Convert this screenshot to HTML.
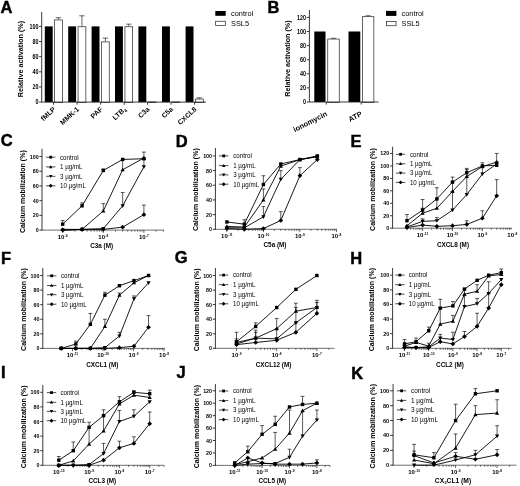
<!DOCTYPE html>
<html><head><meta charset="utf-8"><title>Figure</title>
<style>html,body{margin:0;padding:0;background:#fff}svg{display:block}</style></head>
<body>
<svg width="520" height="486" viewBox="0 0 520 486" font-family='"Liberation Sans", sans-serif' fill="#000">
<rect width="520" height="486" fill="#fff"/>
<text x="0.60" y="12.60" font-size="16.5" font-weight="bold" text-anchor="start" stroke="#000" stroke-width="0.45">A</text>
<path d="M39.10,102.10 H41.70" stroke="#222" stroke-width="0.9"/>
<text transform="translate(38.40 104.30) scale(0.86 1)" font-size="6.3" font-weight="bold" text-anchor="end">0</text>
<path d="M39.10,86.96 H41.70" stroke="#222" stroke-width="0.9"/>
<text transform="translate(38.40 89.16) scale(0.86 1)" font-size="6.3" font-weight="bold" text-anchor="end">20</text>
<path d="M39.10,71.82 H41.70" stroke="#222" stroke-width="0.9"/>
<text transform="translate(38.40 74.02) scale(0.86 1)" font-size="6.3" font-weight="bold" text-anchor="end">40</text>
<path d="M39.10,56.68 H41.70" stroke="#222" stroke-width="0.9"/>
<text transform="translate(38.40 58.88) scale(0.86 1)" font-size="6.3" font-weight="bold" text-anchor="end">60</text>
<path d="M39.10,41.54 H41.70" stroke="#222" stroke-width="0.9"/>
<text transform="translate(38.40 43.74) scale(0.86 1)" font-size="6.3" font-weight="bold" text-anchor="end">80</text>
<path d="M39.10,26.40 H41.70" stroke="#222" stroke-width="0.9"/>
<text transform="translate(38.40 28.60) scale(0.86 1)" font-size="6.3" font-weight="bold" text-anchor="end">100</text>
<text x="23.30" y="59.00" font-size="7.2" font-weight="bold" text-anchor="middle" transform="rotate(-90 23.30 59.00)">Relative activation (%)</text>
<rect x="44.80" y="26.40" width="7.90" height="75.70" fill="#000"/>
<path d="M58.35,19.59 V17.69 M55.65,17.69 H61.05" stroke="#111" stroke-width="0.65" fill="none"/>
<rect x="54.35" y="19.94" width="8.00" height="82.51" fill="#fff" stroke="#222" stroke-width="0.7"/>
<path d="M53.50,102.10 v2.6" stroke="#222" stroke-width="0.9"/>
<text x="55.90" y="109.80" font-size="6.95" font-weight="bold" text-anchor="end" transform="rotate(-43 55.90 109.80)">fMLP</text>
<rect x="68.20" y="26.40" width="7.90" height="75.70" fill="#000"/>
<path d="M81.95,26.40 V15.80 M79.25,15.80 H84.65" stroke="#111" stroke-width="0.65" fill="none"/>
<rect x="78.05" y="26.75" width="7.80" height="75.70" fill="#fff" stroke="#222" stroke-width="0.7"/>
<path d="M77.10,102.10 v2.6" stroke="#222" stroke-width="0.9"/>
<text x="79.50" y="109.80" font-size="6.95" font-weight="bold" text-anchor="end" transform="rotate(-43 79.50 109.80)">MMK-1</text>
<rect x="91.60" y="26.40" width="7.90" height="75.70" fill="#000"/>
<path d="M105.40,41.54 V38.13 M102.70,38.13 H108.10" stroke="#111" stroke-width="0.65" fill="none"/>
<rect x="101.55" y="41.89" width="7.70" height="60.56" fill="#fff" stroke="#222" stroke-width="0.7"/>
<path d="M100.60,102.10 v2.6" stroke="#222" stroke-width="0.9"/>
<text x="103.00" y="109.80" font-size="6.95" font-weight="bold" text-anchor="end" transform="rotate(-43 103.00 109.80)">PAF</text>
<rect x="115.00" y="26.40" width="7.90" height="75.70" fill="#000"/>
<path d="M128.80,26.40 V24.13 M126.10,24.13 H131.50" stroke="#111" stroke-width="0.65" fill="none"/>
<rect x="124.95" y="26.75" width="7.70" height="75.70" fill="#fff" stroke="#222" stroke-width="0.7"/>
<path d="M124.20,102.10 v2.6" stroke="#222" stroke-width="0.9"/>
<text x="126.60" y="109.80" font-size="6.95" font-weight="bold" text-anchor="end" transform="rotate(-43 126.60 109.80)">LTB<tspan font-size="4.8" dy="1.5">4</tspan></text>
<rect x="138.40" y="26.40" width="7.90" height="75.70" fill="#000"/>
<rect x="148.35" y="102.00" width="7.70" height="0.45" fill="#fff" stroke="#222" stroke-width="0.7"/>
<path d="M147.60,102.10 v2.6" stroke="#222" stroke-width="0.9"/>
<text x="150.00" y="109.80" font-size="6.95" font-weight="bold" text-anchor="end" transform="rotate(-43 150.00 109.80)">C3a</text>
<rect x="162.00" y="26.40" width="7.90" height="75.70" fill="#000"/>
<rect x="171.95" y="102.00" width="7.70" height="0.45" fill="#fff" stroke="#222" stroke-width="0.7"/>
<path d="M171.10,102.10 v2.6" stroke="#222" stroke-width="0.9"/>
<text x="173.50" y="109.80" font-size="6.95" font-weight="bold" text-anchor="end" transform="rotate(-43 173.50 109.80)">C5a</text>
<rect x="185.60" y="26.40" width="7.90" height="75.70" fill="#000"/>
<path d="M199.40,98.69 V97.79 M196.70,97.79 H202.10" stroke="#111" stroke-width="0.65" fill="none"/>
<rect x="195.45" y="99.04" width="7.90" height="3.41" fill="#fff" stroke="#222" stroke-width="0.7"/>
<path d="M194.60,102.10 v2.6" stroke="#222" stroke-width="0.9"/>
<text x="197.00" y="109.80" font-size="6.95" font-weight="bold" text-anchor="end" transform="rotate(-43 197.00 109.80)">CXCL8</text>
<path d="M41.70,12.00 V102.10 H206.00" fill="none" stroke="#222" stroke-width="0.9"/>
<rect x="215.30" y="11.00" width="10.40" height="4.80" fill="#000"/>
<rect x="215.65" y="21.25" width="9.70" height="4.10" fill="#fff" stroke="#222" stroke-width="0.7"/>
<text x="231.00" y="15.60" font-size="7.4" text-anchor="start">control</text>
<text x="231.00" y="25.50" font-size="7.4" text-anchor="start">SSL5</text>
<text x="267.40" y="12.90" font-size="16.5" font-weight="bold" text-anchor="start" stroke="#000" stroke-width="0.45">B</text>
<path d="M306.80,102.00 H309.40" stroke="#222" stroke-width="0.9"/>
<text transform="translate(306.10 104.20) scale(0.86 1)" font-size="6.3" font-weight="bold" text-anchor="end">0</text>
<path d="M306.80,87.90 H309.40" stroke="#222" stroke-width="0.9"/>
<text transform="translate(306.10 90.10) scale(0.86 1)" font-size="6.3" font-weight="bold" text-anchor="end">20</text>
<path d="M306.80,73.80 H309.40" stroke="#222" stroke-width="0.9"/>
<text transform="translate(306.10 76.00) scale(0.86 1)" font-size="6.3" font-weight="bold" text-anchor="end">40</text>
<path d="M306.80,59.70 H309.40" stroke="#222" stroke-width="0.9"/>
<text transform="translate(306.10 61.90) scale(0.86 1)" font-size="6.3" font-weight="bold" text-anchor="end">60</text>
<path d="M306.80,45.60 H309.40" stroke="#222" stroke-width="0.9"/>
<text transform="translate(306.10 47.80) scale(0.86 1)" font-size="6.3" font-weight="bold" text-anchor="end">80</text>
<path d="M306.80,31.50 H309.40" stroke="#222" stroke-width="0.9"/>
<text transform="translate(306.10 33.70) scale(0.86 1)" font-size="6.3" font-weight="bold" text-anchor="end">100</text>
<path d="M306.80,17.40 H309.40" stroke="#222" stroke-width="0.9"/>
<text transform="translate(306.10 19.60) scale(0.86 1)" font-size="6.3" font-weight="bold" text-anchor="end">120</text>
<text x="290.40" y="58.50" font-size="7.2" font-weight="bold" text-anchor="middle" transform="rotate(-90 290.40 58.50)">Relative activation (%)</text>
<rect x="314.30" y="31.50" width="11.20" height="70.50" fill="#000"/>
<path d="M333.50,38.69 V38.27 M330.80,38.27 H336.20" stroke="#111" stroke-width="0.65" fill="none"/>
<rect x="327.75" y="39.04" width="11.50" height="63.31" fill="#fff" stroke="#222" stroke-width="0.7"/>
<path d="M326.30,102.00 v2.6" stroke="#222" stroke-width="0.9"/>
<text x="327.80" y="115.50" font-size="7.4" font-weight="bold" text-anchor="end" transform="rotate(-27 327.80 115.50)">ionomycin</text>
<rect x="348.50" y="31.50" width="11.80" height="70.50" fill="#000"/>
<path d="M368.10,16.34 V15.78 M365.40,15.78 H370.80" stroke="#111" stroke-width="0.65" fill="none"/>
<rect x="362.35" y="16.69" width="11.50" height="85.66" fill="#fff" stroke="#222" stroke-width="0.7"/>
<path d="M361.20,102.00 v2.6" stroke="#222" stroke-width="0.9"/>
<text x="362.70" y="115.50" font-size="7.4" font-weight="bold" text-anchor="end" transform="rotate(-27 362.70 115.50)">ATP</text>
<path d="M309.40,10.00 V102.00 H378.50" fill="none" stroke="#222" stroke-width="0.9"/>
<rect x="386.00" y="10.90" width="10.40" height="5.00" fill="#000"/>
<rect x="386.35" y="21.45" width="9.70" height="4.30" fill="#fff" stroke="#222" stroke-width="0.7"/>
<text x="401.50" y="15.70" font-size="7.4" text-anchor="start">control</text>
<text x="401.50" y="25.90" font-size="7.4" text-anchor="start">SSL5</text>
<text x="0.80" y="145.50" font-size="16.5" font-weight="bold" text-anchor="start" stroke="#000" stroke-width="0.45">C</text>
<path d="M42.00,148.80 V230.40" fill="none" stroke="#222" stroke-width="0.9"/>
<path d="M41.60,230.10 H164.00" fill="none" stroke="#222" stroke-width="0.65"/>
<path d="M39.40,230.10 H42.00" stroke="#222" stroke-width="0.9"/>
<text transform="translate(38.60 232.10) scale(0.9 1)" font-size="5.9" font-weight="bold" text-anchor="end">0</text>
<path d="M39.40,215.38 H42.00" stroke="#222" stroke-width="0.9"/>
<text transform="translate(38.60 217.38) scale(0.9 1)" font-size="5.9" font-weight="bold" text-anchor="end">20</text>
<path d="M39.40,200.66 H42.00" stroke="#222" stroke-width="0.9"/>
<text transform="translate(38.60 202.66) scale(0.9 1)" font-size="5.9" font-weight="bold" text-anchor="end">40</text>
<path d="M39.40,185.94 H42.00" stroke="#222" stroke-width="0.9"/>
<text transform="translate(38.60 187.94) scale(0.9 1)" font-size="5.9" font-weight="bold" text-anchor="end">60</text>
<path d="M39.40,171.22 H42.00" stroke="#222" stroke-width="0.9"/>
<text transform="translate(38.60 173.22) scale(0.9 1)" font-size="5.9" font-weight="bold" text-anchor="end">80</text>
<path d="M39.40,156.50 H42.00" stroke="#222" stroke-width="0.9"/>
<text transform="translate(38.60 158.50) scale(0.9 1)" font-size="5.9" font-weight="bold" text-anchor="end">100</text>
<text x="25.00" y="191.70" font-size="7.0" font-weight="bold" text-anchor="middle" transform="rotate(-90 25.00 191.70)">Calcium mobilization (%)</text>
<path d="M62.70,230.10 v2.8 M74.92,230.10 v1.5 M82.07,230.10 v1.5 M87.14,230.10 v1.5 M91.08,230.10 v1.5 M94.29,230.10 v1.5 M97.01,230.10 v1.5 M99.37,230.10 v1.5 M101.44,230.10 v1.5 M103.30,230.10 v2.8 M115.52,230.10 v1.5 M122.67,230.10 v1.5 M127.74,230.10 v1.5 M131.68,230.10 v1.5 M134.89,230.10 v1.5 M137.61,230.10 v1.5 M139.97,230.10 v1.5 M142.04,230.10 v1.5 M143.90,230.10 v2.8 M156.12,230.10 v1.5 M163.27,230.10 v1.5" stroke="#111" stroke-width="0.65" fill="none"/>
<text x="57.77" y="238.50" font-size="6.0" font-weight="bold" text-anchor="start">10</text>
<text x="64.79" y="236.60" font-size="3.2" font-weight="bold" text-anchor="start">-9</text>
<text x="98.37" y="238.50" font-size="6.0" font-weight="bold" text-anchor="start">10</text>
<text x="105.39" y="236.60" font-size="3.2" font-weight="bold" text-anchor="start">-8</text>
<text x="138.97" y="238.50" font-size="6.0" font-weight="bold" text-anchor="start">10</text>
<text x="145.99" y="236.60" font-size="3.2" font-weight="bold" text-anchor="start">-7</text>
<text x="101.60" y="248.30" font-size="6.35" font-weight="bold" text-anchor="middle">C3a (M)</text>
<path d="M46.00,157.20 H55.40" stroke="#000" stroke-width="0.7"/>
<rect x="49.31" y="155.81" width="2.79" height="2.79" fill="#000"/>
<text transform="translate(60.00 159.55) scale(1 1.1)" font-size="6.2">control</text>
<path d="M46.00,166.90 H55.40" stroke="#000" stroke-width="0.7"/>
<polygon points="50.70,165.18 48.98,168.19 52.42,168.19" fill="#000"/>
<text transform="translate(60.00 169.25) scale(1 1.1)" font-size="6.2">1 µg/mL</text>
<path d="M46.00,176.30 H55.40" stroke="#000" stroke-width="0.7"/>
<polygon points="50.70,178.02 48.98,175.01 52.42,175.01" fill="#000"/>
<text transform="translate(60.00 178.65) scale(1 1.1)" font-size="6.2">3 µg/mL</text>
<path d="M46.00,185.80 H55.40" stroke="#000" stroke-width="0.7"/>
<polygon points="50.70,183.87 52.63,185.80 50.70,187.73 48.77,185.80" fill="#000"/>
<text transform="translate(60.00 188.15) scale(1 1.1)" font-size="6.2">10 µg/mL</text>
<path d="M62.70,224.21 V220.53 M60.80,220.53 H64.60" stroke="#000" stroke-width="0.65" fill="none"/>
<path d="M82.07,205.81 V202.87 M80.17,202.87 H83.97" stroke="#000" stroke-width="0.65" fill="none"/>
<path d="M103.30,170.48 V169.01 M101.40,169.01 H105.20" stroke="#000" stroke-width="0.65" fill="none"/>
<path d="M143.90,158.71 V152.08 M142.00,152.08 H145.80" stroke="#000" stroke-width="0.65" fill="none"/>
<path d="M103.30,210.96 V203.60 M101.40,203.60 H105.20" stroke="#000" stroke-width="0.65" fill="none"/>
<path d="M122.67,169.75 V159.44 M120.77,159.44 H124.57" stroke="#000" stroke-width="0.65" fill="none"/>
<path d="M122.67,205.81 V192.56 M120.77,192.56 H124.57" stroke="#000" stroke-width="0.65" fill="none"/>
<path d="M143.90,166.80 V159.44 M142.00,159.44 H145.80" stroke="#000" stroke-width="0.65" fill="none"/>
<path d="M143.90,214.64 V205.08 M142.00,205.08 H145.80" stroke="#000" stroke-width="0.65" fill="none"/>
<polyline points="62.70,224.21 82.07,205.81 103.30,170.48 122.67,159.44 143.90,158.71" fill="none" stroke="#000" stroke-width="0.9" stroke-linejoin="round"/>
<polyline points="62.70,229.36 82.07,229.36 103.30,210.96 122.67,169.75 143.90,157.97" fill="none" stroke="#000" stroke-width="0.9" stroke-linejoin="round"/>
<polyline points="62.70,230.10 82.07,229.36 103.30,228.63 122.67,205.81 143.90,166.80" fill="none" stroke="#000" stroke-width="0.9" stroke-linejoin="round"/>
<polyline points="62.70,230.10 82.07,229.36 103.30,229.36 122.67,227.16 143.90,214.64" fill="none" stroke="#000" stroke-width="0.9" stroke-linejoin="round"/>
<rect x="61.00" y="222.51" width="3.40" height="3.40" fill="#000"/>
<rect x="80.37" y="204.11" width="3.40" height="3.40" fill="#000"/>
<rect x="101.60" y="168.78" width="3.40" height="3.40" fill="#000"/>
<rect x="120.97" y="157.74" width="3.40" height="3.40" fill="#000"/>
<rect x="142.20" y="157.01" width="3.40" height="3.40" fill="#000"/>
<polygon points="62.70,227.26 60.60,230.94 64.80,230.94" fill="#000"/>
<polygon points="82.07,227.26 79.97,230.94 84.17,230.94" fill="#000"/>
<polygon points="103.30,208.86 101.20,212.54 105.40,212.54" fill="#000"/>
<polygon points="122.67,167.65 120.57,171.32 124.77,171.32" fill="#000"/>
<polygon points="143.90,155.87 141.80,159.55 146.00,159.55" fill="#000"/>
<polygon points="62.70,232.20 60.60,228.53 64.80,228.53" fill="#000"/>
<polygon points="82.07,231.46 79.97,227.79 84.17,227.79" fill="#000"/>
<polygon points="103.30,230.73 101.20,227.05 105.40,227.05" fill="#000"/>
<polygon points="122.67,207.91 120.57,204.24 124.77,204.24" fill="#000"/>
<polygon points="143.90,168.90 141.80,165.23 146.00,165.23" fill="#000"/>
<polygon points="62.70,227.75 65.05,230.10 62.70,232.45 60.35,230.10" fill="#000"/>
<polygon points="82.07,227.01 84.42,229.36 82.07,231.71 79.72,229.36" fill="#000"/>
<polygon points="103.30,227.01 105.65,229.36 103.30,231.71 100.95,229.36" fill="#000"/>
<polygon points="122.67,224.81 125.02,227.16 122.67,229.51 120.32,227.16" fill="#000"/>
<polygon points="143.90,212.29 146.25,214.64 143.90,216.99 141.55,214.64" fill="#000"/>
<text x="175.70" y="147.00" font-size="16.5" font-weight="bold" text-anchor="start" stroke="#000" stroke-width="0.45">D</text>
<path d="M215.40,148.00 V229.60" fill="none" stroke="#222" stroke-width="0.9"/>
<path d="M215.00,229.30 H337.00" fill="none" stroke="#222" stroke-width="0.65"/>
<path d="M212.80,229.30 H215.40" stroke="#222" stroke-width="0.9"/>
<text transform="translate(212.00 231.30) scale(0.9 1)" font-size="5.9" font-weight="bold" text-anchor="end">0</text>
<path d="M212.80,214.62 H215.40" stroke="#222" stroke-width="0.9"/>
<text transform="translate(212.00 216.62) scale(0.9 1)" font-size="5.9" font-weight="bold" text-anchor="end">20</text>
<path d="M212.80,199.94 H215.40" stroke="#222" stroke-width="0.9"/>
<text transform="translate(212.00 201.94) scale(0.9 1)" font-size="5.9" font-weight="bold" text-anchor="end">40</text>
<path d="M212.80,185.26 H215.40" stroke="#222" stroke-width="0.9"/>
<text transform="translate(212.00 187.26) scale(0.9 1)" font-size="5.9" font-weight="bold" text-anchor="end">60</text>
<path d="M212.80,170.58 H215.40" stroke="#222" stroke-width="0.9"/>
<text transform="translate(212.00 172.58) scale(0.9 1)" font-size="5.9" font-weight="bold" text-anchor="end">80</text>
<path d="M212.80,155.90 H215.40" stroke="#222" stroke-width="0.9"/>
<text transform="translate(212.00 157.90) scale(0.9 1)" font-size="5.9" font-weight="bold" text-anchor="end">100</text>
<text x="198.50" y="189.70" font-size="7.0" font-weight="bold" text-anchor="middle" transform="rotate(-90 198.50 189.70)">Calcium mobilization (%)</text>
<path d="M226.90,229.30 v2.8 M237.89,229.30 v1.5 M244.31,229.30 v1.5 M248.88,229.30 v1.5 M252.41,229.30 v1.5 M255.30,229.30 v1.5 M257.75,229.30 v1.5 M259.86,229.30 v1.5 M261.73,229.30 v1.5 M263.40,229.30 v2.8 M274.39,229.30 v1.5 M280.81,229.30 v1.5 M285.38,229.30 v1.5 M288.91,229.30 v1.5 M291.80,229.30 v1.5 M294.25,229.30 v1.5 M296.36,229.30 v1.5 M298.23,229.30 v1.5 M299.90,229.30 v2.8 M310.89,229.30 v1.5 M317.31,229.30 v1.5 M321.88,229.30 v1.5 M325.41,229.30 v1.5 M328.30,229.30 v1.5 M330.75,229.30 v1.5 M332.86,229.30 v1.5 M334.73,229.30 v1.5 M336.40,229.30 v2.8" stroke="#111" stroke-width="0.65" fill="none"/>
<text x="221.08" y="237.70" font-size="6.0" font-weight="bold" text-anchor="start">10</text>
<text x="228.10" y="235.80" font-size="3.2" font-weight="bold" text-anchor="start">-11</text>
<text x="257.58" y="237.70" font-size="6.0" font-weight="bold" text-anchor="start">10</text>
<text x="264.60" y="235.80" font-size="3.2" font-weight="bold" text-anchor="start">-10</text>
<text x="294.97" y="237.70" font-size="6.0" font-weight="bold" text-anchor="start">10</text>
<text x="301.99" y="235.80" font-size="3.2" font-weight="bold" text-anchor="start">-9</text>
<text x="331.47" y="237.70" font-size="6.0" font-weight="bold" text-anchor="start">10</text>
<text x="338.49" y="235.80" font-size="3.2" font-weight="bold" text-anchor="start">-8</text>
<text x="275.00" y="247.30" font-size="6.35" font-weight="bold" text-anchor="middle">C5a (M)</text>
<path d="M219.00,155.90 H228.40" stroke="#000" stroke-width="0.7"/>
<rect x="222.31" y="154.51" width="2.79" height="2.79" fill="#000"/>
<text transform="translate(233.20 158.25) scale(1 1.1)" font-size="6.2">control</text>
<path d="M219.00,165.60 H228.40" stroke="#000" stroke-width="0.7"/>
<polygon points="223.70,163.88 221.98,166.89 225.42,166.89" fill="#000"/>
<text transform="translate(233.20 167.95) scale(1 1.1)" font-size="6.2">1 µg/mL</text>
<path d="M219.00,174.90 H228.40" stroke="#000" stroke-width="0.7"/>
<polygon points="223.70,176.62 221.98,173.61 225.42,173.61" fill="#000"/>
<text transform="translate(233.20 177.25) scale(1 1.1)" font-size="6.2">3 µg/mL</text>
<path d="M219.00,184.20 H228.40" stroke="#000" stroke-width="0.7"/>
<polygon points="223.70,182.27 225.63,184.20 223.70,186.13 221.77,184.20" fill="#000"/>
<text transform="translate(233.20 186.55) scale(1 1.1)" font-size="6.2">10 µg/mL</text>
<path d="M244.31,224.16 V219.76 M242.41,219.76 H246.21" stroke="#000" stroke-width="0.65" fill="none"/>
<path d="M263.40,184.53 V175.72 M261.50,175.72 H265.30" stroke="#000" stroke-width="0.65" fill="none"/>
<path d="M263.40,199.94 V188.93 M261.50,188.93 H265.30" stroke="#000" stroke-width="0.65" fill="none"/>
<path d="M263.40,216.82 V206.55 M261.50,206.55 H265.30" stroke="#000" stroke-width="0.65" fill="none"/>
<path d="M280.81,179.39 V170.58 M278.91,170.58 H282.71" stroke="#000" stroke-width="0.65" fill="none"/>
<path d="M280.81,220.49 V211.68 M278.91,211.68 H282.71" stroke="#000" stroke-width="0.65" fill="none"/>
<path d="M299.90,175.72 V167.64 M298.00,167.64 H301.80" stroke="#000" stroke-width="0.65" fill="none"/>
<polyline points="226.90,221.96 244.31,224.16 263.40,184.53 280.81,163.97 299.90,159.57 317.31,155.90" fill="none" stroke="#000" stroke-width="0.9" stroke-linejoin="round"/>
<polyline points="226.90,226.36 244.31,227.10 263.40,199.94 280.81,166.18 299.90,159.57 317.31,156.63" fill="none" stroke="#000" stroke-width="0.9" stroke-linejoin="round"/>
<polyline points="226.90,227.83 244.31,227.83 263.40,216.82 280.81,179.39 299.90,159.57 317.31,156.63" fill="none" stroke="#000" stroke-width="0.9" stroke-linejoin="round"/>
<polyline points="226.90,228.57 244.31,229.30 263.40,228.57 280.81,220.49 299.90,175.72 317.31,159.57" fill="none" stroke="#000" stroke-width="0.9" stroke-linejoin="round"/>
<rect x="225.20" y="220.26" width="3.40" height="3.40" fill="#000"/>
<rect x="242.61" y="222.46" width="3.40" height="3.40" fill="#000"/>
<rect x="261.70" y="182.83" width="3.40" height="3.40" fill="#000"/>
<rect x="279.11" y="162.27" width="3.40" height="3.40" fill="#000"/>
<rect x="298.20" y="157.87" width="3.40" height="3.40" fill="#000"/>
<rect x="315.61" y="154.20" width="3.40" height="3.40" fill="#000"/>
<polygon points="226.90,224.26 224.80,227.94 229.00,227.94" fill="#000"/>
<polygon points="244.31,225.00 242.21,228.67 246.41,228.67" fill="#000"/>
<polygon points="263.40,197.84 261.30,201.51 265.50,201.51" fill="#000"/>
<polygon points="280.81,164.08 278.71,167.75 282.91,167.75" fill="#000"/>
<polygon points="299.90,157.47 297.80,161.14 302.00,161.14" fill="#000"/>
<polygon points="317.31,154.53 315.21,158.21 319.41,158.21" fill="#000"/>
<polygon points="226.90,229.93 224.80,226.26 229.00,226.26" fill="#000"/>
<polygon points="244.31,229.93 242.21,226.26 246.41,226.26" fill="#000"/>
<polygon points="263.40,218.92 261.30,215.25 265.50,215.25" fill="#000"/>
<polygon points="280.81,181.49 278.71,177.81 282.91,177.81" fill="#000"/>
<polygon points="299.90,161.67 297.80,158.00 302.00,158.00" fill="#000"/>
<polygon points="317.31,158.73 315.21,155.06 319.41,155.06" fill="#000"/>
<polygon points="226.90,226.22 229.25,228.57 226.90,230.92 224.55,228.57" fill="#000"/>
<polygon points="244.31,226.95 246.66,229.30 244.31,231.65 241.96,229.30" fill="#000"/>
<polygon points="263.40,226.22 265.75,228.57 263.40,230.92 261.05,228.57" fill="#000"/>
<polygon points="280.81,218.14 283.16,220.49 280.81,222.84 278.46,220.49" fill="#000"/>
<polygon points="299.90,173.37 302.25,175.72 299.90,178.07 297.55,175.72" fill="#000"/>
<polygon points="317.31,157.22 319.66,159.57 317.31,161.92 314.96,159.57" fill="#000"/>
<text x="350.50" y="147.30" font-size="16.5" font-weight="bold" text-anchor="start" stroke="#000" stroke-width="0.45">E</text>
<path d="M392.60,146.80 V228.50" fill="none" stroke="#222" stroke-width="0.9"/>
<path d="M392.20,228.20 H512.00" fill="none" stroke="#222" stroke-width="0.65"/>
<path d="M390.00,228.20 H392.60" stroke="#222" stroke-width="0.9"/>
<text transform="translate(389.20 230.20) scale(0.9 1)" font-size="5.9" font-weight="bold" text-anchor="end">0</text>
<path d="M390.00,215.74 H392.60" stroke="#222" stroke-width="0.9"/>
<text transform="translate(389.20 217.74) scale(0.9 1)" font-size="5.9" font-weight="bold" text-anchor="end">20</text>
<path d="M390.00,203.28 H392.60" stroke="#222" stroke-width="0.9"/>
<text transform="translate(389.20 205.28) scale(0.9 1)" font-size="5.9" font-weight="bold" text-anchor="end">40</text>
<path d="M390.00,190.82 H392.60" stroke="#222" stroke-width="0.9"/>
<text transform="translate(389.20 192.82) scale(0.9 1)" font-size="5.9" font-weight="bold" text-anchor="end">60</text>
<path d="M390.00,178.36 H392.60" stroke="#222" stroke-width="0.9"/>
<text transform="translate(389.20 180.36) scale(0.9 1)" font-size="5.9" font-weight="bold" text-anchor="end">80</text>
<path d="M390.00,165.90 H392.60" stroke="#222" stroke-width="0.9"/>
<text transform="translate(389.20 167.90) scale(0.9 1)" font-size="5.9" font-weight="bold" text-anchor="end">100</text>
<path d="M390.00,153.44 H392.60" stroke="#222" stroke-width="0.9"/>
<text transform="translate(389.20 155.44) scale(0.9 1)" font-size="5.9" font-weight="bold" text-anchor="end">120</text>
<text x="374.50" y="189.50" font-size="7.0" font-weight="bold" text-anchor="middle" transform="rotate(-90 374.50 189.50)">Calcium mobilization (%)</text>
<path d="M406.97,228.20 v1.5 M410.70,228.20 v1.5 M413.60,228.20 v1.5 M415.97,228.20 v1.5 M417.97,228.20 v1.5 M419.70,228.20 v1.5 M421.23,228.20 v1.5 M422.60,228.20 v2.8 M431.60,228.20 v1.5 M436.87,228.20 v1.5 M440.60,228.20 v1.5 M443.50,228.20 v1.5 M445.87,228.20 v1.5 M447.87,228.20 v1.5 M449.60,228.20 v1.5 M451.13,228.20 v1.5 M452.50,228.20 v2.8 M461.50,228.20 v1.5 M466.77,228.20 v1.5 M470.50,228.20 v1.5 M473.40,228.20 v1.5 M475.77,228.20 v1.5 M477.77,228.20 v1.5 M479.50,228.20 v1.5 M481.03,228.20 v1.5 M482.40,228.20 v2.8 M491.40,228.20 v1.5 M496.67,228.20 v1.5 M500.40,228.20 v1.5 M503.30,228.20 v1.5 M505.67,228.20 v1.5 M507.67,228.20 v1.5 M509.40,228.20 v1.5 M510.93,228.20 v1.5" stroke="#111" stroke-width="0.65" fill="none"/>
<text x="416.78" y="236.60" font-size="6.0" font-weight="bold" text-anchor="start">10</text>
<text x="423.80" y="234.70" font-size="3.2" font-weight="bold" text-anchor="start">-11</text>
<text x="446.68" y="236.60" font-size="6.0" font-weight="bold" text-anchor="start">10</text>
<text x="453.70" y="234.70" font-size="3.2" font-weight="bold" text-anchor="start">-10</text>
<text x="477.47" y="236.60" font-size="6.0" font-weight="bold" text-anchor="start">10</text>
<text x="484.49" y="234.70" font-size="3.2" font-weight="bold" text-anchor="start">-9</text>
<text x="507.37" y="236.60" font-size="6.0" font-weight="bold" text-anchor="start">10</text>
<text x="514.39" y="234.70" font-size="3.2" font-weight="bold" text-anchor="start">-8</text>
<text x="453.00" y="247.00" font-size="6.35" font-weight="bold" text-anchor="middle">CXCL8 (M)</text>
<path d="M395.90,154.30 H405.30" stroke="#000" stroke-width="0.7"/>
<rect x="399.21" y="152.91" width="2.79" height="2.79" fill="#000"/>
<text transform="translate(409.90 156.65) scale(1 1.1)" font-size="6.2">control</text>
<path d="M395.90,163.80 H405.30" stroke="#000" stroke-width="0.7"/>
<polygon points="400.60,162.08 398.88,165.09 402.32,165.09" fill="#000"/>
<text transform="translate(409.90 166.15) scale(1 1.1)" font-size="6.2">1 µg/mL</text>
<path d="M395.90,173.10 H405.30" stroke="#000" stroke-width="0.7"/>
<polygon points="400.60,174.82 398.88,171.81 402.32,171.81" fill="#000"/>
<text transform="translate(409.90 175.45) scale(1 1.1)" font-size="6.2">3 µg/mL</text>
<path d="M395.90,182.40 H405.30" stroke="#000" stroke-width="0.7"/>
<polygon points="400.60,180.47 402.53,182.40 400.60,184.33 398.67,182.40" fill="#000"/>
<text transform="translate(409.90 184.75) scale(1 1.1)" font-size="6.2">10 µg/mL</text>
<path d="M406.97,220.72 V214.49 M405.07,214.49 H408.87" stroke="#000" stroke-width="0.65" fill="none"/>
<path d="M422.60,210.13 V199.54 M420.70,199.54 H424.50" stroke="#000" stroke-width="0.65" fill="none"/>
<path d="M436.87,198.92 V187.71 M434.97,187.71 H438.77" stroke="#000" stroke-width="0.65" fill="none"/>
<path d="M452.50,182.10 V177.11 M450.60,177.11 H454.40" stroke="#000" stroke-width="0.65" fill="none"/>
<path d="M466.77,172.75 V168.39 M464.87,168.39 H468.67" stroke="#000" stroke-width="0.65" fill="none"/>
<path d="M482.40,165.90 V162.79 M480.50,162.79 H484.30" stroke="#000" stroke-width="0.65" fill="none"/>
<path d="M496.67,165.28 V161.54 M494.77,161.54 H498.57" stroke="#000" stroke-width="0.65" fill="none"/>
<path d="M422.60,213.25 V208.26 M420.70,208.26 H424.50" stroke="#000" stroke-width="0.65" fill="none"/>
<path d="M436.87,208.26 V198.92 M434.97,198.92 H438.77" stroke="#000" stroke-width="0.65" fill="none"/>
<path d="M452.50,191.44 V182.10 M450.60,182.10 H454.40" stroke="#000" stroke-width="0.65" fill="none"/>
<path d="M466.77,176.49 V169.64 M464.87,169.64 H468.67" stroke="#000" stroke-width="0.65" fill="none"/>
<path d="M496.67,162.16 V153.44 M494.77,153.44 H498.57" stroke="#000" stroke-width="0.65" fill="none"/>
<path d="M422.60,221.35 V218.85 M420.70,218.85 H424.50" stroke="#000" stroke-width="0.65" fill="none"/>
<path d="M436.87,220.72 V217.61 M434.97,217.61 H438.77" stroke="#000" stroke-width="0.65" fill="none"/>
<path d="M452.50,210.13 V191.44 M450.60,191.44 H454.40" stroke="#000" stroke-width="0.65" fill="none"/>
<path d="M466.77,194.56 V177.11 M464.87,177.11 H468.67" stroke="#000" stroke-width="0.65" fill="none"/>
<path d="M482.40,174.00 V167.77 M480.50,167.77 H484.30" stroke="#000" stroke-width="0.65" fill="none"/>
<path d="M466.77,224.46 V220.72 M464.87,220.72 H468.67" stroke="#000" stroke-width="0.65" fill="none"/>
<path d="M482.40,218.23 V210.76 M480.50,210.76 H484.30" stroke="#000" stroke-width="0.65" fill="none"/>
<path d="M496.67,195.80 V179.61 M494.77,179.61 H498.57" stroke="#000" stroke-width="0.65" fill="none"/>
<polyline points="406.97,220.72 422.60,210.13 436.87,198.92 452.50,182.10 466.77,172.75 482.40,165.90 496.67,165.28" fill="none" stroke="#000" stroke-width="0.9" stroke-linejoin="round"/>
<polyline points="406.97,225.71 422.60,213.25 436.87,208.26 452.50,191.44 466.77,176.49 482.40,166.52 496.67,162.16" fill="none" stroke="#000" stroke-width="0.9" stroke-linejoin="round"/>
<polyline points="406.97,226.95 422.60,221.35 436.87,220.72 452.50,210.13 466.77,194.56 482.40,174.00 496.67,164.03" fill="none" stroke="#000" stroke-width="0.9" stroke-linejoin="round"/>
<polyline points="406.97,227.58 422.60,225.08 436.87,226.33 452.50,225.71 466.77,224.46 482.40,218.23 496.67,195.80" fill="none" stroke="#000" stroke-width="0.9" stroke-linejoin="round"/>
<rect x="405.27" y="219.02" width="3.40" height="3.40" fill="#000"/>
<rect x="420.90" y="208.43" width="3.40" height="3.40" fill="#000"/>
<rect x="435.17" y="197.22" width="3.40" height="3.40" fill="#000"/>
<rect x="450.80" y="180.40" width="3.40" height="3.40" fill="#000"/>
<rect x="465.07" y="171.05" width="3.40" height="3.40" fill="#000"/>
<rect x="480.70" y="164.20" width="3.40" height="3.40" fill="#000"/>
<rect x="494.97" y="163.58" width="3.40" height="3.40" fill="#000"/>
<polygon points="406.97,223.61 404.87,227.28 409.07,227.28" fill="#000"/>
<polygon points="422.60,211.15 420.50,214.82 424.70,214.82" fill="#000"/>
<polygon points="436.87,206.16 434.77,209.84 438.97,209.84" fill="#000"/>
<polygon points="452.50,189.34 450.40,193.02 454.60,193.02" fill="#000"/>
<polygon points="466.77,174.39 464.67,178.07 468.87,178.07" fill="#000"/>
<polygon points="482.40,164.42 480.30,168.10 484.50,168.10" fill="#000"/>
<polygon points="496.67,160.06 494.57,163.74 498.77,163.74" fill="#000"/>
<polygon points="406.97,229.05 404.87,225.38 409.07,225.38" fill="#000"/>
<polygon points="422.60,223.45 420.50,219.77 424.70,219.77" fill="#000"/>
<polygon points="436.87,222.82 434.77,219.15 438.97,219.15" fill="#000"/>
<polygon points="452.50,212.23 450.40,208.56 454.60,208.56" fill="#000"/>
<polygon points="466.77,196.66 464.67,192.98 468.87,192.98" fill="#000"/>
<polygon points="482.40,176.10 480.30,172.42 484.50,172.42" fill="#000"/>
<polygon points="496.67,166.13 494.57,162.46 498.77,162.46" fill="#000"/>
<polygon points="406.97,225.23 409.32,227.58 406.97,229.93 404.62,227.58" fill="#000"/>
<polygon points="422.60,222.73 424.95,225.08 422.60,227.43 420.25,225.08" fill="#000"/>
<polygon points="436.87,223.98 439.22,226.33 436.87,228.68 434.52,226.33" fill="#000"/>
<polygon points="452.50,223.36 454.85,225.71 452.50,228.06 450.15,225.71" fill="#000"/>
<polygon points="466.77,222.11 469.12,224.46 466.77,226.81 464.42,224.46" fill="#000"/>
<polygon points="482.40,215.88 484.75,218.23 482.40,220.58 480.05,218.23" fill="#000"/>
<polygon points="496.67,193.45 499.02,195.80 496.67,198.15 494.32,195.80" fill="#000"/>
<text x="1.00" y="263.60" font-size="16.5" font-weight="bold" text-anchor="start" stroke="#000" stroke-width="0.45">F</text>
<path d="M42.80,268.00 V348.70" fill="none" stroke="#222" stroke-width="0.9"/>
<path d="M42.40,348.40 H165.00" fill="none" stroke="#222" stroke-width="0.65"/>
<path d="M40.20,348.40 H42.80" stroke="#222" stroke-width="0.9"/>
<text transform="translate(39.40 350.40) scale(0.9 1)" font-size="5.9" font-weight="bold" text-anchor="end">0</text>
<path d="M40.20,333.82 H42.80" stroke="#222" stroke-width="0.9"/>
<text transform="translate(39.40 335.82) scale(0.9 1)" font-size="5.9" font-weight="bold" text-anchor="end">20</text>
<path d="M40.20,319.24 H42.80" stroke="#222" stroke-width="0.9"/>
<text transform="translate(39.40 321.24) scale(0.9 1)" font-size="5.9" font-weight="bold" text-anchor="end">40</text>
<path d="M40.20,304.66 H42.80" stroke="#222" stroke-width="0.9"/>
<text transform="translate(39.40 306.66) scale(0.9 1)" font-size="5.9" font-weight="bold" text-anchor="end">60</text>
<path d="M40.20,290.08 H42.80" stroke="#222" stroke-width="0.9"/>
<text transform="translate(39.40 292.08) scale(0.9 1)" font-size="5.9" font-weight="bold" text-anchor="end">80</text>
<path d="M40.20,275.50 H42.80" stroke="#222" stroke-width="0.9"/>
<text transform="translate(39.40 277.50) scale(0.9 1)" font-size="5.9" font-weight="bold" text-anchor="end">100</text>
<text x="25.90" y="309.50" font-size="7.0" font-weight="bold" text-anchor="middle" transform="rotate(-90 25.90 309.50)">Calcium mobilization (%)</text>
<path d="M72.50,348.40 v2.8 M81.68,348.40 v1.5 M87.05,348.40 v1.5 M90.86,348.40 v1.5 M93.82,348.40 v1.5 M96.23,348.40 v1.5 M98.28,348.40 v1.5 M100.04,348.40 v1.5 M101.60,348.40 v1.5 M103.00,348.40 v2.8 M112.18,348.40 v1.5 M117.55,348.40 v1.5 M121.36,348.40 v1.5 M124.32,348.40 v1.5 M126.73,348.40 v1.5 M128.78,348.40 v1.5 M130.54,348.40 v1.5 M132.10,348.40 v1.5 M133.50,348.40 v2.8 M142.68,348.40 v1.5 M148.05,348.40 v1.5 M151.86,348.40 v1.5 M154.82,348.40 v1.5 M157.23,348.40 v1.5 M159.28,348.40 v1.5 M161.04,348.40 v1.5 M162.60,348.40 v1.5 M164.00,348.40 v2.8" stroke="#111" stroke-width="0.65" fill="none"/>
<text x="66.68" y="356.80" font-size="6.0" font-weight="bold" text-anchor="start">10</text>
<text x="73.70" y="354.90" font-size="3.2" font-weight="bold" text-anchor="start">-11</text>
<text x="97.18" y="356.80" font-size="6.0" font-weight="bold" text-anchor="start">10</text>
<text x="104.20" y="354.90" font-size="3.2" font-weight="bold" text-anchor="start">-10</text>
<text x="128.57" y="356.80" font-size="6.0" font-weight="bold" text-anchor="start">10</text>
<text x="135.59" y="354.90" font-size="3.2" font-weight="bold" text-anchor="start">-9</text>
<text x="159.07" y="356.80" font-size="6.0" font-weight="bold" text-anchor="start">10</text>
<text x="166.09" y="354.90" font-size="3.2" font-weight="bold" text-anchor="start">-8</text>
<text x="102.30" y="367.00" font-size="6.35" font-weight="bold" text-anchor="middle">CXCL1 (M)</text>
<path d="M47.00,275.80 H56.40" stroke="#000" stroke-width="0.7"/>
<rect x="50.31" y="274.41" width="2.79" height="2.79" fill="#000"/>
<text transform="translate(60.90 278.15) scale(1 1.1)" font-size="6.2">control</text>
<path d="M47.00,285.50 H56.40" stroke="#000" stroke-width="0.7"/>
<polygon points="51.70,283.78 49.98,286.79 53.42,286.79" fill="#000"/>
<text transform="translate(60.90 287.85) scale(1 1.1)" font-size="6.2">1 µg/mL</text>
<path d="M47.00,294.70 H56.40" stroke="#000" stroke-width="0.7"/>
<polygon points="51.70,296.42 49.98,293.41 53.42,293.41" fill="#000"/>
<text transform="translate(60.90 297.05) scale(1 1.1)" font-size="6.2">3 µg/mL</text>
<path d="M47.00,304.20 H56.40" stroke="#000" stroke-width="0.7"/>
<polygon points="51.70,302.27 53.63,304.20 51.70,306.13 49.77,304.20" fill="#000"/>
<text transform="translate(60.90 306.55) scale(1 1.1)" font-size="6.2">10 µg/mL</text>
<path d="M75.80,344.03 V341.11 M73.90,341.11 H77.70" stroke="#000" stroke-width="0.65" fill="none"/>
<path d="M90.35,324.34 V313.41 M88.45,313.41 H92.25" stroke="#000" stroke-width="0.65" fill="none"/>
<path d="M104.90,295.18 V292.27 M103.00,292.27 H106.80" stroke="#000" stroke-width="0.65" fill="none"/>
<path d="M104.90,326.53 V319.24 M103.00,319.24 H106.80" stroke="#000" stroke-width="0.65" fill="none"/>
<path d="M119.44,295.18 V293.00 M117.54,293.00 H121.34" stroke="#000" stroke-width="0.65" fill="none"/>
<path d="M119.44,336.01 V332.36 M117.54,332.36 H121.34" stroke="#000" stroke-width="0.65" fill="none"/>
<path d="M133.99,298.83 V295.91 M132.09,295.91 H135.89" stroke="#000" stroke-width="0.65" fill="none"/>
<path d="M148.54,327.26 V315.59 M146.64,315.59 H150.44" stroke="#000" stroke-width="0.65" fill="none"/>
<polyline points="61.25,348.40 75.80,344.03 90.35,324.34 104.90,295.18 119.44,285.71 133.99,280.60 148.54,275.50" fill="none" stroke="#000" stroke-width="0.9" stroke-linejoin="round"/>
<polyline points="61.25,348.40 75.80,348.40 90.35,348.40 104.90,326.53 119.44,295.18 133.99,282.79 148.54,275.50" fill="none" stroke="#000" stroke-width="0.9" stroke-linejoin="round"/>
<polyline points="61.25,348.40 75.80,348.40 90.35,348.40 104.90,347.67 119.44,336.01 133.99,298.83 148.54,282.79" fill="none" stroke="#000" stroke-width="0.9" stroke-linejoin="round"/>
<polyline points="61.25,348.40 75.80,348.40 90.35,348.40 104.90,348.40 119.44,347.67 133.99,346.21 148.54,327.26" fill="none" stroke="#000" stroke-width="0.9" stroke-linejoin="round"/>
<rect x="59.55" y="346.70" width="3.40" height="3.40" fill="#000"/>
<rect x="74.10" y="342.33" width="3.40" height="3.40" fill="#000"/>
<rect x="88.65" y="322.64" width="3.40" height="3.40" fill="#000"/>
<rect x="103.20" y="293.48" width="3.40" height="3.40" fill="#000"/>
<rect x="117.74" y="284.01" width="3.40" height="3.40" fill="#000"/>
<rect x="132.29" y="278.90" width="3.40" height="3.40" fill="#000"/>
<rect x="146.84" y="273.80" width="3.40" height="3.40" fill="#000"/>
<polygon points="61.25,346.30 59.15,349.97 63.35,349.97" fill="#000"/>
<polygon points="75.80,346.30 73.70,349.97 77.90,349.97" fill="#000"/>
<polygon points="90.35,346.30 88.25,349.97 92.45,349.97" fill="#000"/>
<polygon points="104.90,324.43 102.80,328.10 107.00,328.10" fill="#000"/>
<polygon points="119.44,293.08 117.34,296.76 121.54,296.76" fill="#000"/>
<polygon points="133.99,280.69 131.89,284.36 136.09,284.36" fill="#000"/>
<polygon points="148.54,273.40 146.44,277.07 150.64,277.07" fill="#000"/>
<polygon points="61.25,350.50 59.15,346.82 63.35,346.82" fill="#000"/>
<polygon points="75.80,350.50 73.70,346.82 77.90,346.82" fill="#000"/>
<polygon points="90.35,350.50 88.25,346.82 92.45,346.82" fill="#000"/>
<polygon points="104.90,349.77 102.80,346.10 107.00,346.10" fill="#000"/>
<polygon points="119.44,338.11 117.34,334.43 121.54,334.43" fill="#000"/>
<polygon points="133.99,300.93 131.89,297.25 136.09,297.25" fill="#000"/>
<polygon points="148.54,284.89 146.44,281.21 150.64,281.21" fill="#000"/>
<polygon points="61.25,346.05 63.60,348.40 61.25,350.75 58.90,348.40" fill="#000"/>
<polygon points="75.80,346.05 78.15,348.40 75.80,350.75 73.45,348.40" fill="#000"/>
<polygon points="90.35,346.05 92.70,348.40 90.35,350.75 88.00,348.40" fill="#000"/>
<polygon points="104.90,346.05 107.25,348.40 104.90,350.75 102.55,348.40" fill="#000"/>
<polygon points="119.44,345.32 121.79,347.67 119.44,350.02 117.09,347.67" fill="#000"/>
<polygon points="133.99,343.86 136.34,346.21 133.99,348.56 131.64,346.21" fill="#000"/>
<polygon points="148.54,324.91 150.89,327.26 148.54,329.61 146.19,327.26" fill="#000"/>
<text x="174.70" y="263.40" font-size="16.5" font-weight="bold" text-anchor="start" stroke="#000" stroke-width="0.45">G</text>
<path d="M215.40,268.00 V348.60" fill="none" stroke="#222" stroke-width="0.9"/>
<path d="M215.00,348.30 H334.50" fill="none" stroke="#222" stroke-width="0.65"/>
<path d="M212.80,348.30 H215.40" stroke="#222" stroke-width="0.9"/>
<text transform="translate(212.00 350.30) scale(0.9 1)" font-size="5.9" font-weight="bold" text-anchor="end">0</text>
<path d="M212.80,333.74 H215.40" stroke="#222" stroke-width="0.9"/>
<text transform="translate(212.00 335.74) scale(0.9 1)" font-size="5.9" font-weight="bold" text-anchor="end">20</text>
<path d="M212.80,319.18 H215.40" stroke="#222" stroke-width="0.9"/>
<text transform="translate(212.00 321.18) scale(0.9 1)" font-size="5.9" font-weight="bold" text-anchor="end">40</text>
<path d="M212.80,304.62 H215.40" stroke="#222" stroke-width="0.9"/>
<text transform="translate(212.00 306.62) scale(0.9 1)" font-size="5.9" font-weight="bold" text-anchor="end">60</text>
<path d="M212.80,290.06 H215.40" stroke="#222" stroke-width="0.9"/>
<text transform="translate(212.00 292.06) scale(0.9 1)" font-size="5.9" font-weight="bold" text-anchor="end">80</text>
<path d="M212.80,275.50 H215.40" stroke="#222" stroke-width="0.9"/>
<text transform="translate(212.00 277.50) scale(0.9 1)" font-size="5.9" font-weight="bold" text-anchor="end">100</text>
<text x="199.10" y="309.80" font-size="7.0" font-weight="bold" text-anchor="middle" transform="rotate(-90 199.10 309.80)">Calcium mobilization (%)</text>
<path d="M236.50,348.30 v2.8 M248.60,348.30 v1.5 M255.68,348.30 v1.5 M260.70,348.30 v1.5 M264.60,348.30 v1.5 M267.78,348.30 v1.5 M270.47,348.30 v1.5 M272.80,348.30 v1.5 M274.86,348.30 v1.5 M276.70,348.30 v2.8 M288.80,348.30 v1.5 M295.88,348.30 v1.5 M300.90,348.30 v1.5 M304.80,348.30 v1.5 M307.98,348.30 v1.5 M310.67,348.30 v1.5 M313.00,348.30 v1.5 M315.06,348.30 v1.5 M316.90,348.30 v2.8 M329.00,348.30 v1.5" stroke="#111" stroke-width="0.65" fill="none"/>
<text x="231.57" y="356.70" font-size="6.0" font-weight="bold" text-anchor="start">10</text>
<text x="238.59" y="354.80" font-size="3.2" font-weight="bold" text-anchor="start">-9</text>
<text x="271.77" y="356.70" font-size="6.0" font-weight="bold" text-anchor="start">10</text>
<text x="278.79" y="354.80" font-size="3.2" font-weight="bold" text-anchor="start">-8</text>
<text x="311.97" y="356.70" font-size="6.0" font-weight="bold" text-anchor="start">10</text>
<text x="318.99" y="354.80" font-size="3.2" font-weight="bold" text-anchor="start">-7</text>
<text x="273.60" y="367.00" font-size="6.35" font-weight="bold" text-anchor="middle">CXCL12 (M)</text>
<path d="M218.90,275.10 H228.30" stroke="#000" stroke-width="0.7"/>
<rect x="222.21" y="273.71" width="2.79" height="2.79" fill="#000"/>
<text transform="translate(233.00 277.45) scale(1 1.1)" font-size="6.2">control</text>
<path d="M218.90,284.70 H228.30" stroke="#000" stroke-width="0.7"/>
<polygon points="223.60,282.98 221.88,285.99 225.32,285.99" fill="#000"/>
<text transform="translate(233.00 287.05) scale(1 1.1)" font-size="6.2">1 µg/mL</text>
<path d="M218.90,294.20 H228.30" stroke="#000" stroke-width="0.7"/>
<polygon points="223.60,295.92 221.88,292.91 225.32,292.91" fill="#000"/>
<text transform="translate(233.00 296.55) scale(1 1.1)" font-size="6.2">3 µg/mL</text>
<path d="M218.90,303.80 H228.30" stroke="#000" stroke-width="0.7"/>
<polygon points="223.60,301.87 225.53,303.80 223.60,305.73 221.67,303.80" fill="#000"/>
<text transform="translate(233.00 306.15) scale(1 1.1)" font-size="6.2">10 µg/mL</text>
<path d="M236.50,341.75 V332.28 M234.60,332.28 H238.40" stroke="#000" stroke-width="0.65" fill="none"/>
<path d="M255.68,326.46 V322.82 M253.78,322.82 H257.58" stroke="#000" stroke-width="0.65" fill="none"/>
<path d="M236.50,342.48 V338.84 M234.60,338.84 H238.40" stroke="#000" stroke-width="0.65" fill="none"/>
<path d="M255.68,338.11 V332.28 M253.78,332.28 H257.58" stroke="#000" stroke-width="0.65" fill="none"/>
<path d="M276.70,328.64 V318.45 M274.80,318.45 H278.60" stroke="#000" stroke-width="0.65" fill="none"/>
<path d="M295.88,311.17 V303.16 M293.98,303.16 H297.78" stroke="#000" stroke-width="0.65" fill="none"/>
<path d="M316.90,307.53 V300.25 M315.00,300.25 H318.80" stroke="#000" stroke-width="0.65" fill="none"/>
<path d="M236.50,343.93 V341.02 M234.60,341.02 H238.40" stroke="#000" stroke-width="0.65" fill="none"/>
<path d="M255.68,338.11 V330.10 M253.78,330.10 H257.58" stroke="#000" stroke-width="0.65" fill="none"/>
<path d="M276.70,338.84 V328.64 M274.80,328.64 H278.60" stroke="#000" stroke-width="0.65" fill="none"/>
<path d="M295.88,322.82 V307.53 M293.98,307.53 H297.78" stroke="#000" stroke-width="0.65" fill="none"/>
<path d="M316.90,307.53 V302.44 M315.00,302.44 H318.80" stroke="#000" stroke-width="0.65" fill="none"/>
<path d="M255.68,342.48 V338.11 M253.78,338.11 H257.58" stroke="#000" stroke-width="0.65" fill="none"/>
<path d="M276.70,340.29 V338.84 M274.80,338.84 H278.60" stroke="#000" stroke-width="0.65" fill="none"/>
<path d="M295.88,332.28 V322.82 M293.98,322.82 H297.78" stroke="#000" stroke-width="0.65" fill="none"/>
<path d="M316.90,313.36 V307.53 M315.00,307.53 H318.80" stroke="#000" stroke-width="0.65" fill="none"/>
<polyline points="236.50,341.75 255.68,326.46 276.70,307.53 295.88,289.33 316.90,275.50" fill="none" stroke="#000" stroke-width="0.9" stroke-linejoin="round"/>
<polyline points="236.50,342.48 255.68,338.11 276.70,328.64 295.88,311.17 316.90,307.53" fill="none" stroke="#000" stroke-width="0.9" stroke-linejoin="round"/>
<polyline points="236.50,343.93 255.68,338.11 276.70,338.84 295.88,322.82 316.90,307.53" fill="none" stroke="#000" stroke-width="0.9" stroke-linejoin="round"/>
<polyline points="236.50,344.66 255.68,342.48 276.70,340.29 295.88,332.28 316.90,313.36" fill="none" stroke="#000" stroke-width="0.9" stroke-linejoin="round"/>
<rect x="234.80" y="340.05" width="3.40" height="3.40" fill="#000"/>
<rect x="253.98" y="324.76" width="3.40" height="3.40" fill="#000"/>
<rect x="275.00" y="305.83" width="3.40" height="3.40" fill="#000"/>
<rect x="294.18" y="287.63" width="3.40" height="3.40" fill="#000"/>
<rect x="315.20" y="273.80" width="3.40" height="3.40" fill="#000"/>
<polygon points="236.50,340.38 234.40,344.05 238.60,344.05" fill="#000"/>
<polygon points="255.68,336.01 253.58,339.68 257.78,339.68" fill="#000"/>
<polygon points="276.70,326.54 274.60,330.22 278.80,330.22" fill="#000"/>
<polygon points="295.88,309.07 293.78,312.75 297.98,312.75" fill="#000"/>
<polygon points="316.90,305.43 314.80,309.11 319.00,309.11" fill="#000"/>
<polygon points="236.50,346.03 234.40,342.36 238.60,342.36" fill="#000"/>
<polygon points="255.68,340.21 253.58,336.53 257.78,336.53" fill="#000"/>
<polygon points="276.70,340.94 274.60,337.26 278.80,337.26" fill="#000"/>
<polygon points="295.88,324.92 293.78,321.25 297.98,321.25" fill="#000"/>
<polygon points="316.90,309.63 314.80,305.96 319.00,305.96" fill="#000"/>
<polygon points="236.50,342.31 238.85,344.66 236.50,347.01 234.15,344.66" fill="#000"/>
<polygon points="255.68,340.13 258.03,342.48 255.68,344.83 253.33,342.48" fill="#000"/>
<polygon points="276.70,337.94 279.05,340.29 276.70,342.64 274.35,340.29" fill="#000"/>
<polygon points="295.88,329.93 298.23,332.28 295.88,334.63 293.53,332.28" fill="#000"/>
<polygon points="316.90,311.01 319.25,313.36 316.90,315.71 314.55,313.36" fill="#000"/>
<text x="350.20" y="263.70" font-size="16.5" font-weight="bold" text-anchor="start" stroke="#000" stroke-width="0.45">H</text>
<path d="M392.60,268.00 V348.60" fill="none" stroke="#222" stroke-width="0.9"/>
<path d="M392.20,348.30 H511.60" fill="none" stroke="#222" stroke-width="0.65"/>
<path d="M390.00,348.30 H392.60" stroke="#222" stroke-width="0.9"/>
<text transform="translate(389.20 350.30) scale(0.9 1)" font-size="5.9" font-weight="bold" text-anchor="end">0</text>
<path d="M390.00,333.68 H392.60" stroke="#222" stroke-width="0.9"/>
<text transform="translate(389.20 335.68) scale(0.9 1)" font-size="5.9" font-weight="bold" text-anchor="end">20</text>
<path d="M390.00,319.06 H392.60" stroke="#222" stroke-width="0.9"/>
<text transform="translate(389.20 321.06) scale(0.9 1)" font-size="5.9" font-weight="bold" text-anchor="end">40</text>
<path d="M390.00,304.44 H392.60" stroke="#222" stroke-width="0.9"/>
<text transform="translate(389.20 306.44) scale(0.9 1)" font-size="5.9" font-weight="bold" text-anchor="end">60</text>
<path d="M390.00,289.82 H392.60" stroke="#222" stroke-width="0.9"/>
<text transform="translate(389.20 291.82) scale(0.9 1)" font-size="5.9" font-weight="bold" text-anchor="end">80</text>
<path d="M390.00,275.20 H392.60" stroke="#222" stroke-width="0.9"/>
<text transform="translate(389.20 277.20) scale(0.9 1)" font-size="5.9" font-weight="bold" text-anchor="end">100</text>
<text x="374.20" y="309.60" font-size="7.05" font-weight="bold" text-anchor="middle" transform="rotate(-90 374.20 309.60)">Calcium mobilization (%)</text>
<path d="M404.50,348.30 v2.8 M411.78,348.30 v1.5 M416.05,348.30 v1.5 M419.07,348.30 v1.5 M421.42,348.30 v1.5 M423.33,348.30 v1.5 M424.95,348.30 v1.5 M426.35,348.30 v1.5 M427.59,348.30 v1.5 M428.70,348.30 v2.8 M435.98,348.30 v1.5 M440.25,348.30 v1.5 M443.27,348.30 v1.5 M445.62,348.30 v1.5 M447.53,348.30 v1.5 M449.15,348.30 v1.5 M450.55,348.30 v1.5 M451.79,348.30 v1.5 M452.90,348.30 v2.8 M460.18,348.30 v1.5 M464.45,348.30 v1.5 M467.47,348.30 v1.5 M469.82,348.30 v1.5 M471.73,348.30 v1.5 M473.35,348.30 v1.5 M474.75,348.30 v1.5 M475.99,348.30 v1.5 M477.10,348.30 v2.8 M484.38,348.30 v1.5 M488.65,348.30 v1.5 M491.67,348.30 v1.5 M494.02,348.30 v1.5 M495.93,348.30 v1.5 M497.55,348.30 v1.5 M498.95,348.30 v1.5 M500.19,348.30 v1.5 M501.30,348.30 v2.8 M508.58,348.30 v1.5" stroke="#111" stroke-width="0.65" fill="none"/>
<text x="398.68" y="356.70" font-size="6.0" font-weight="bold" text-anchor="start">10</text>
<text x="405.70" y="354.80" font-size="3.2" font-weight="bold" text-anchor="start">-11</text>
<text x="422.88" y="356.70" font-size="6.0" font-weight="bold" text-anchor="start">10</text>
<text x="429.90" y="354.80" font-size="3.2" font-weight="bold" text-anchor="start">-10</text>
<text x="447.97" y="356.70" font-size="6.0" font-weight="bold" text-anchor="start">10</text>
<text x="454.99" y="354.80" font-size="3.2" font-weight="bold" text-anchor="start">-9</text>
<text x="472.17" y="356.70" font-size="6.0" font-weight="bold" text-anchor="start">10</text>
<text x="479.19" y="354.80" font-size="3.2" font-weight="bold" text-anchor="start">-8</text>
<text x="496.37" y="356.70" font-size="6.0" font-weight="bold" text-anchor="start">10</text>
<text x="503.39" y="354.80" font-size="3.2" font-weight="bold" text-anchor="start">-7</text>
<text x="450.00" y="367.00" font-size="6.35" font-weight="bold" text-anchor="middle">CCL2 (M)</text>
<path d="M395.20,275.10 H404.60" stroke="#000" stroke-width="0.7"/>
<rect x="398.51" y="273.71" width="2.79" height="2.79" fill="#000"/>
<text transform="translate(408.70 277.45) scale(1 1.1)" font-size="6.2">control</text>
<path d="M395.20,284.70 H404.60" stroke="#000" stroke-width="0.7"/>
<polygon points="399.90,282.98 398.18,285.99 401.62,285.99" fill="#000"/>
<text transform="translate(408.70 287.05) scale(1 1.1)" font-size="6.2">1 µg/mL</text>
<path d="M395.20,294.20 H404.60" stroke="#000" stroke-width="0.7"/>
<polygon points="399.90,295.92 398.18,292.91 401.62,292.91" fill="#000"/>
<text transform="translate(408.70 296.55) scale(1 1.1)" font-size="6.2">3 µg/mL</text>
<path d="M395.20,303.80 H404.60" stroke="#000" stroke-width="0.7"/>
<polygon points="399.90,301.87 401.83,303.80 399.90,305.73 397.97,303.80" fill="#000"/>
<text transform="translate(408.70 306.15) scale(1 1.1)" font-size="6.2">10 µg/mL</text>
<path d="M404.50,343.91 V339.53 M402.60,339.53 H406.40" stroke="#000" stroke-width="0.65" fill="none"/>
<path d="M416.05,341.72 V338.07 M414.15,338.07 H417.95" stroke="#000" stroke-width="0.65" fill="none"/>
<path d="M428.70,330.76 V327.10 M426.80,327.10 H430.60" stroke="#000" stroke-width="0.65" fill="none"/>
<path d="M440.25,308.10 V299.32 M438.35,299.32 H442.15" stroke="#000" stroke-width="0.65" fill="none"/>
<path d="M452.90,305.90 V301.52 M451.00,301.52 H454.80" stroke="#000" stroke-width="0.65" fill="none"/>
<path d="M501.30,272.64 V268.99 M499.40,268.99 H503.20" stroke="#000" stroke-width="0.65" fill="none"/>
<path d="M428.70,346.11 V343.18 M426.80,343.18 H430.60" stroke="#000" stroke-width="0.65" fill="none"/>
<path d="M440.25,324.18 V308.10 M438.35,308.10 H442.15" stroke="#000" stroke-width="0.65" fill="none"/>
<path d="M452.90,321.25 V315.40 M451.00,315.40 H454.80" stroke="#000" stroke-width="0.65" fill="none"/>
<path d="M464.45,294.21 V289.09 M462.55,289.09 H466.35" stroke="#000" stroke-width="0.65" fill="none"/>
<path d="M477.10,291.28 V284.70 M475.20,284.70 H479.00" stroke="#000" stroke-width="0.65" fill="none"/>
<path d="M440.25,338.07 V334.41 M438.35,334.41 H442.15" stroke="#000" stroke-width="0.65" fill="none"/>
<path d="M452.90,339.53 V332.22 M451.00,332.22 H454.80" stroke="#000" stroke-width="0.65" fill="none"/>
<path d="M464.45,306.63 V295.67 M462.55,295.67 H466.35" stroke="#000" stroke-width="0.65" fill="none"/>
<path d="M477.10,303.71 V298.59 M475.20,298.59 H479.00" stroke="#000" stroke-width="0.65" fill="none"/>
<path d="M488.65,293.48 V281.78 M486.75,281.78 H490.55" stroke="#000" stroke-width="0.65" fill="none"/>
<path d="M464.45,336.60 V331.49 M462.55,331.49 H466.35" stroke="#000" stroke-width="0.65" fill="none"/>
<path d="M477.10,326.37 V313.21 M475.20,313.21 H479.00" stroke="#000" stroke-width="0.65" fill="none"/>
<path d="M488.65,308.10 V293.48 M486.75,293.48 H490.55" stroke="#000" stroke-width="0.65" fill="none"/>
<polyline points="404.50,343.91 416.05,341.72 428.70,330.76 440.25,308.10 452.90,305.90 464.45,289.09 477.10,280.32 488.65,275.20 501.30,272.64" fill="none" stroke="#000" stroke-width="0.9" stroke-linejoin="round"/>
<polyline points="404.50,346.11 416.05,342.45 428.70,346.11 440.25,324.18 452.90,321.25 464.45,294.21 477.10,291.28 488.65,275.93 501.30,274.47" fill="none" stroke="#000" stroke-width="0.9" stroke-linejoin="round"/>
<polyline points="404.50,346.84 416.05,347.57 428.70,346.84 440.25,338.07 452.90,339.53 464.45,306.63 477.10,303.71 488.65,293.48 501.30,279.59" fill="none" stroke="#000" stroke-width="0.9" stroke-linejoin="round"/>
<polyline points="404.50,347.57 416.05,347.57 428.70,347.57 440.25,341.72 452.90,343.91 464.45,336.60 477.10,326.37 488.65,308.10 501.30,284.70" fill="none" stroke="#000" stroke-width="0.9" stroke-linejoin="round"/>
<rect x="402.80" y="342.21" width="3.40" height="3.40" fill="#000"/>
<rect x="414.35" y="340.02" width="3.40" height="3.40" fill="#000"/>
<rect x="427.00" y="329.06" width="3.40" height="3.40" fill="#000"/>
<rect x="438.55" y="306.40" width="3.40" height="3.40" fill="#000"/>
<rect x="451.20" y="304.20" width="3.40" height="3.40" fill="#000"/>
<rect x="462.75" y="287.39" width="3.40" height="3.40" fill="#000"/>
<rect x="475.40" y="278.62" width="3.40" height="3.40" fill="#000"/>
<rect x="486.95" y="273.50" width="3.40" height="3.40" fill="#000"/>
<rect x="499.60" y="270.94" width="3.40" height="3.40" fill="#000"/>
<polygon points="404.50,344.01 402.40,347.68 406.60,347.68" fill="#000"/>
<polygon points="416.05,340.35 413.95,344.03 418.15,344.03" fill="#000"/>
<polygon points="428.70,344.01 426.60,347.68 430.80,347.68" fill="#000"/>
<polygon points="440.25,322.08 438.15,325.75 442.35,325.75" fill="#000"/>
<polygon points="452.90,319.15 450.80,322.83 455.00,322.83" fill="#000"/>
<polygon points="464.45,292.11 462.35,295.78 466.55,295.78" fill="#000"/>
<polygon points="477.10,289.18 475.00,292.86 479.20,292.86" fill="#000"/>
<polygon points="488.65,273.83 486.55,277.51 490.75,277.51" fill="#000"/>
<polygon points="501.30,272.37 499.20,276.04 503.40,276.04" fill="#000"/>
<polygon points="404.50,348.94 402.40,345.26 406.60,345.26" fill="#000"/>
<polygon points="416.05,349.67 413.95,345.99 418.15,345.99" fill="#000"/>
<polygon points="428.70,348.94 426.60,345.26 430.80,345.26" fill="#000"/>
<polygon points="440.25,340.17 438.15,336.49 442.35,336.49" fill="#000"/>
<polygon points="452.90,341.63 450.80,337.95 455.00,337.95" fill="#000"/>
<polygon points="464.45,308.73 462.35,305.06 466.55,305.06" fill="#000"/>
<polygon points="477.10,305.81 475.00,302.13 479.20,302.13" fill="#000"/>
<polygon points="488.65,295.58 486.55,291.90 490.75,291.90" fill="#000"/>
<polygon points="501.30,281.69 499.20,278.01 503.40,278.01" fill="#000"/>
<polygon points="404.50,345.22 406.85,347.57 404.50,349.92 402.15,347.57" fill="#000"/>
<polygon points="416.05,345.22 418.40,347.57 416.05,349.92 413.70,347.57" fill="#000"/>
<polygon points="428.70,345.22 431.05,347.57 428.70,349.92 426.35,347.57" fill="#000"/>
<polygon points="440.25,339.37 442.60,341.72 440.25,344.07 437.90,341.72" fill="#000"/>
<polygon points="452.90,341.56 455.25,343.91 452.90,346.26 450.55,343.91" fill="#000"/>
<polygon points="464.45,334.25 466.80,336.60 464.45,338.95 462.10,336.60" fill="#000"/>
<polygon points="477.10,324.02 479.45,326.37 477.10,328.72 474.75,326.37" fill="#000"/>
<polygon points="488.65,305.75 491.00,308.10 488.65,310.45 486.30,308.10" fill="#000"/>
<polygon points="501.30,282.35 503.65,284.70 501.30,287.05 498.95,284.70" fill="#000"/>
<text x="1.00" y="378.10" font-size="16.5" font-weight="bold" text-anchor="start" stroke="#000" stroke-width="0.45">I</text>
<path d="M42.80,385.00 V465.60" fill="none" stroke="#222" stroke-width="0.9"/>
<path d="M42.40,465.30 H164.00" fill="none" stroke="#222" stroke-width="0.65"/>
<path d="M40.20,465.30 H42.80" stroke="#222" stroke-width="0.9"/>
<text transform="translate(39.40 467.30) scale(0.9 1)" font-size="5.9" font-weight="bold" text-anchor="end">0</text>
<path d="M40.20,450.70 H42.80" stroke="#222" stroke-width="0.9"/>
<text transform="translate(39.40 452.70) scale(0.9 1)" font-size="5.9" font-weight="bold" text-anchor="end">20</text>
<path d="M40.20,436.10 H42.80" stroke="#222" stroke-width="0.9"/>
<text transform="translate(39.40 438.10) scale(0.9 1)" font-size="5.9" font-weight="bold" text-anchor="end">40</text>
<path d="M40.20,421.50 H42.80" stroke="#222" stroke-width="0.9"/>
<text transform="translate(39.40 423.50) scale(0.9 1)" font-size="5.9" font-weight="bold" text-anchor="end">60</text>
<path d="M40.20,406.90 H42.80" stroke="#222" stroke-width="0.9"/>
<text transform="translate(39.40 408.90) scale(0.9 1)" font-size="5.9" font-weight="bold" text-anchor="end">80</text>
<path d="M40.20,392.30 H42.80" stroke="#222" stroke-width="0.9"/>
<text transform="translate(39.40 394.30) scale(0.9 1)" font-size="5.9" font-weight="bold" text-anchor="end">100</text>
<text x="25.90" y="426.90" font-size="7.0" font-weight="bold" text-anchor="middle" transform="rotate(-90 25.90 426.90)">Calcium mobilization (%)</text>
<path d="M58.80,465.30 v2.8 M67.92,465.30 v1.5 M73.26,465.30 v1.5 M77.04,465.30 v1.5 M79.98,465.30 v1.5 M82.38,465.30 v1.5 M84.41,465.30 v1.5 M86.16,465.30 v1.5 M87.71,465.30 v1.5 M89.10,465.30 v2.8 M98.22,465.30 v1.5 M103.56,465.30 v1.5 M107.34,465.30 v1.5 M110.28,465.30 v1.5 M112.68,465.30 v1.5 M114.71,465.30 v1.5 M116.46,465.30 v1.5 M118.01,465.30 v1.5 M119.40,465.30 v2.8 M128.52,465.30 v1.5 M133.86,465.30 v1.5 M137.64,465.30 v1.5 M140.58,465.30 v1.5 M142.98,465.30 v1.5 M145.01,465.30 v1.5 M146.76,465.30 v1.5 M148.31,465.30 v1.5 M149.70,465.30 v2.8 M158.82,465.30 v1.5 M164.16,465.30 v1.5" stroke="#111" stroke-width="0.65" fill="none"/>
<text x="52.98" y="473.70" font-size="6.0" font-weight="bold" text-anchor="start">10</text>
<text x="60.00" y="471.80" font-size="3.2" font-weight="bold" text-anchor="start">-10</text>
<text x="84.17" y="473.70" font-size="6.0" font-weight="bold" text-anchor="start">10</text>
<text x="91.19" y="471.80" font-size="3.2" font-weight="bold" text-anchor="start">-9</text>
<text x="114.47" y="473.70" font-size="6.0" font-weight="bold" text-anchor="start">10</text>
<text x="121.49" y="471.80" font-size="3.2" font-weight="bold" text-anchor="start">-8</text>
<text x="144.77" y="473.70" font-size="6.0" font-weight="bold" text-anchor="start">10</text>
<text x="151.79" y="471.80" font-size="3.2" font-weight="bold" text-anchor="start">-7</text>
<text x="102.30" y="482.50" font-size="6.35" font-weight="bold" text-anchor="middle">CCL3 (M)</text>
<path d="M46.80,392.60 H56.20" stroke="#000" stroke-width="0.7"/>
<rect x="50.11" y="391.21" width="2.79" height="2.79" fill="#000"/>
<text transform="translate(60.40 394.95) scale(1 1.1)" font-size="6.2">control</text>
<path d="M46.80,402.30 H56.20" stroke="#000" stroke-width="0.7"/>
<polygon points="51.50,400.58 49.78,403.59 53.22,403.59" fill="#000"/>
<text transform="translate(60.40 404.65) scale(1 1.1)" font-size="6.2">1 µg/mL</text>
<path d="M46.80,411.40 H56.20" stroke="#000" stroke-width="0.7"/>
<polygon points="51.50,413.12 49.78,410.11 53.22,410.11" fill="#000"/>
<text transform="translate(60.40 413.75) scale(1 1.1)" font-size="6.2">3 µg/mL</text>
<path d="M46.80,420.70 H56.20" stroke="#000" stroke-width="0.7"/>
<polygon points="51.50,418.77 53.43,420.70 51.50,422.63 49.57,420.70" fill="#000"/>
<text transform="translate(60.40 423.05) scale(1 1.1)" font-size="6.2">10 µg/mL</text>
<path d="M58.80,460.19 V456.54 M56.90,456.54 H60.70" stroke="#000" stroke-width="0.65" fill="none"/>
<path d="M73.26,450.70 V441.94 M71.36,441.94 H75.16" stroke="#000" stroke-width="0.65" fill="none"/>
<path d="M89.10,427.34 V422.23 M87.20,422.23 H91.00" stroke="#000" stroke-width="0.65" fill="none"/>
<path d="M103.56,415.66 V409.82 M101.66,409.82 H105.46" stroke="#000" stroke-width="0.65" fill="none"/>
<path d="M119.40,401.79 V396.68 M117.50,396.68 H121.30" stroke="#000" stroke-width="0.65" fill="none"/>
<path d="M133.86,392.30 V390.84 M131.96,390.84 H135.76" stroke="#000" stroke-width="0.65" fill="none"/>
<path d="M149.70,393.76 V390.11 M147.80,390.11 H151.60" stroke="#000" stroke-width="0.65" fill="none"/>
<path d="M89.10,444.13 V427.34 M87.20,427.34 H91.00" stroke="#000" stroke-width="0.65" fill="none"/>
<path d="M103.56,430.99 V415.66 M101.66,415.66 H105.46" stroke="#000" stroke-width="0.65" fill="none"/>
<path d="M103.56,453.62 V443.40 M101.66,443.40 H105.46" stroke="#000" stroke-width="0.65" fill="none"/>
<path d="M119.40,421.50 V410.55 M117.50,410.55 H121.30" stroke="#000" stroke-width="0.65" fill="none"/>
<path d="M133.86,416.39 V409.82 M131.96,409.82 H135.76" stroke="#000" stroke-width="0.65" fill="none"/>
<path d="M119.40,447.78 V441.21 M117.50,441.21 H121.30" stroke="#000" stroke-width="0.65" fill="none"/>
<path d="M133.86,443.40 V436.83 M131.96,436.83 H135.76" stroke="#000" stroke-width="0.65" fill="none"/>
<path d="M149.70,423.69 V412.01 M147.80,412.01 H151.60" stroke="#000" stroke-width="0.65" fill="none"/>
<polyline points="58.80,460.19 73.26,450.70 89.10,427.34 103.56,415.66 119.40,401.79 133.86,392.30 149.70,393.76" fill="none" stroke="#000" stroke-width="0.9" stroke-linejoin="round"/>
<polyline points="58.80,465.30 73.26,460.92 89.10,444.13 103.56,430.99 119.40,403.98 133.86,395.22 149.70,397.41" fill="none" stroke="#000" stroke-width="0.9" stroke-linejoin="round"/>
<polyline points="58.80,465.30 73.26,465.30 89.10,464.57 103.56,453.62 119.40,421.50 133.86,416.39 149.70,401.79" fill="none" stroke="#000" stroke-width="0.9" stroke-linejoin="round"/>
<polyline points="58.80,465.30 73.26,465.30 89.10,465.30 103.56,460.19 119.40,447.78 133.86,443.40 149.70,423.69" fill="none" stroke="#000" stroke-width="0.9" stroke-linejoin="round"/>
<rect x="57.10" y="458.49" width="3.40" height="3.40" fill="#000"/>
<rect x="71.56" y="449.00" width="3.40" height="3.40" fill="#000"/>
<rect x="87.40" y="425.64" width="3.40" height="3.40" fill="#000"/>
<rect x="101.86" y="413.96" width="3.40" height="3.40" fill="#000"/>
<rect x="117.70" y="400.09" width="3.40" height="3.40" fill="#000"/>
<rect x="132.16" y="390.60" width="3.40" height="3.40" fill="#000"/>
<rect x="148.00" y="392.06" width="3.40" height="3.40" fill="#000"/>
<polygon points="58.80,463.20 56.70,466.88 60.90,466.88" fill="#000"/>
<polygon points="73.26,458.82 71.16,462.50 75.36,462.50" fill="#000"/>
<polygon points="89.10,442.03 87.00,445.70 91.20,445.70" fill="#000"/>
<polygon points="103.56,428.89 101.46,432.56 105.66,432.56" fill="#000"/>
<polygon points="119.40,401.88 117.30,405.56 121.50,405.56" fill="#000"/>
<polygon points="133.86,393.12 131.76,396.80 135.96,396.80" fill="#000"/>
<polygon points="149.70,395.31 147.60,398.99 151.80,398.99" fill="#000"/>
<polygon points="58.80,467.40 56.70,463.73 60.90,463.73" fill="#000"/>
<polygon points="73.26,467.40 71.16,463.73 75.36,463.73" fill="#000"/>
<polygon points="89.10,466.67 87.00,463.00 91.20,463.00" fill="#000"/>
<polygon points="103.56,455.72 101.46,452.05 105.66,452.05" fill="#000"/>
<polygon points="119.40,423.60 117.30,419.93 121.50,419.93" fill="#000"/>
<polygon points="133.86,418.49 131.76,414.81 135.96,414.81" fill="#000"/>
<polygon points="149.70,403.89 147.60,400.22 151.80,400.22" fill="#000"/>
<polygon points="58.80,462.95 61.15,465.30 58.80,467.65 56.45,465.30" fill="#000"/>
<polygon points="73.26,462.95 75.61,465.30 73.26,467.65 70.91,465.30" fill="#000"/>
<polygon points="89.10,462.95 91.45,465.30 89.10,467.65 86.75,465.30" fill="#000"/>
<polygon points="103.56,457.84 105.91,460.19 103.56,462.54 101.21,460.19" fill="#000"/>
<polygon points="119.40,445.43 121.75,447.78 119.40,450.13 117.05,447.78" fill="#000"/>
<polygon points="133.86,441.05 136.21,443.40 133.86,445.75 131.51,443.40" fill="#000"/>
<polygon points="149.70,421.34 152.05,423.69 149.70,426.04 147.35,423.69" fill="#000"/>
<text x="176.40" y="378.40" font-size="16.5" font-weight="bold" text-anchor="start" stroke="#000" stroke-width="0.45">J</text>
<path d="M215.40,384.00 V465.70" fill="none" stroke="#222" stroke-width="0.9"/>
<path d="M215.00,465.40 H330.00" fill="none" stroke="#222" stroke-width="0.65"/>
<path d="M212.80,465.40 H215.40" stroke="#222" stroke-width="0.9"/>
<text transform="translate(212.00 467.40) scale(0.9 1)" font-size="5.9" font-weight="bold" text-anchor="end">0</text>
<path d="M212.80,452.96 H215.40" stroke="#222" stroke-width="0.9"/>
<text transform="translate(212.00 454.96) scale(0.9 1)" font-size="5.9" font-weight="bold" text-anchor="end">20</text>
<path d="M212.80,440.52 H215.40" stroke="#222" stroke-width="0.9"/>
<text transform="translate(212.00 442.52) scale(0.9 1)" font-size="5.9" font-weight="bold" text-anchor="end">40</text>
<path d="M212.80,428.08 H215.40" stroke="#222" stroke-width="0.9"/>
<text transform="translate(212.00 430.08) scale(0.9 1)" font-size="5.9" font-weight="bold" text-anchor="end">60</text>
<path d="M212.80,415.64 H215.40" stroke="#222" stroke-width="0.9"/>
<text transform="translate(212.00 417.64) scale(0.9 1)" font-size="5.9" font-weight="bold" text-anchor="end">80</text>
<path d="M212.80,403.20 H215.40" stroke="#222" stroke-width="0.9"/>
<text transform="translate(212.00 405.20) scale(0.9 1)" font-size="5.9" font-weight="bold" text-anchor="end">100</text>
<path d="M212.80,390.76 H215.40" stroke="#222" stroke-width="0.9"/>
<text transform="translate(212.00 392.76) scale(0.9 1)" font-size="5.9" font-weight="bold" text-anchor="end">120</text>
<text x="198.60" y="426.60" font-size="7.05" font-weight="bold" text-anchor="middle" transform="rotate(-90 198.60 426.60)">Calcium mobilization (%)</text>
<path d="M234.70,465.40 v2.8 M242.95,465.40 v1.5 M247.77,465.40 v1.5 M251.20,465.40 v1.5 M253.85,465.40 v1.5 M256.02,465.40 v1.5 M257.86,465.40 v1.5 M259.44,465.40 v1.5 M260.85,465.40 v1.5 M262.10,465.40 v2.8 M270.35,465.40 v1.5 M275.17,465.40 v1.5 M278.60,465.40 v1.5 M281.25,465.40 v1.5 M283.42,465.40 v1.5 M285.26,465.40 v1.5 M286.84,465.40 v1.5 M288.25,465.40 v1.5 M289.50,465.40 v2.8 M297.75,465.40 v1.5 M302.57,465.40 v1.5 M306.00,465.40 v1.5 M308.65,465.40 v1.5 M310.82,465.40 v1.5 M312.66,465.40 v1.5 M314.24,465.40 v1.5 M315.65,465.40 v1.5 M316.90,465.40 v2.8 M325.15,465.40 v1.5 M329.97,465.40 v1.5" stroke="#111" stroke-width="0.65" fill="none"/>
<text x="228.88" y="473.80" font-size="6.0" font-weight="bold" text-anchor="start">10</text>
<text x="235.90" y="471.90" font-size="3.2" font-weight="bold" text-anchor="start">-11</text>
<text x="256.28" y="473.80" font-size="6.0" font-weight="bold" text-anchor="start">10</text>
<text x="263.30" y="471.90" font-size="3.2" font-weight="bold" text-anchor="start">-10</text>
<text x="284.57" y="473.80" font-size="6.0" font-weight="bold" text-anchor="start">10</text>
<text x="291.59" y="471.90" font-size="3.2" font-weight="bold" text-anchor="start">-9</text>
<text x="311.97" y="473.80" font-size="6.0" font-weight="bold" text-anchor="start">10</text>
<text x="318.99" y="471.90" font-size="3.2" font-weight="bold" text-anchor="start">-8</text>
<text x="272.30" y="482.70" font-size="6.35" font-weight="bold" text-anchor="middle">CCL5 (M)</text>
<path d="M218.90,391.00 H228.30" stroke="#000" stroke-width="0.7"/>
<rect x="222.21" y="389.61" width="2.79" height="2.79" fill="#000"/>
<text transform="translate(233.00 393.35) scale(1 1.1)" font-size="6.2">control</text>
<path d="M218.90,400.60 H228.30" stroke="#000" stroke-width="0.7"/>
<polygon points="223.60,398.88 221.88,401.89 225.32,401.89" fill="#000"/>
<text transform="translate(233.00 402.95) scale(1 1.1)" font-size="6.2">1 µg/mL</text>
<path d="M218.90,410.10 H228.30" stroke="#000" stroke-width="0.7"/>
<polygon points="223.60,411.82 221.88,408.81 225.32,408.81" fill="#000"/>
<text transform="translate(233.00 412.45) scale(1 1.1)" font-size="6.2">3 µg/mL</text>
<path d="M218.90,419.60 H228.30" stroke="#000" stroke-width="0.7"/>
<polygon points="223.60,417.67 225.53,419.60 223.60,421.53 221.67,419.60" fill="#000"/>
<text transform="translate(233.00 421.95) scale(1 1.1)" font-size="6.2">10 µg/mL</text>
<path d="M247.77,451.72 V446.12 M245.87,446.12 H249.67" stroke="#000" stroke-width="0.65" fill="none"/>
<path d="M262.10,434.30 V425.59 M260.20,425.59 H264.00" stroke="#000" stroke-width="0.65" fill="none"/>
<path d="M275.17,424.35 V416.26 M273.27,416.26 H277.07" stroke="#000" stroke-width="0.65" fill="none"/>
<path d="M302.57,404.44 V396.36 M300.67,396.36 H304.47" stroke="#000" stroke-width="0.65" fill="none"/>
<path d="M275.17,449.23 V432.43 M273.27,432.43 H277.07" stroke="#000" stroke-width="0.65" fill="none"/>
<path d="M289.50,433.06 V410.04 M287.60,410.04 H291.40" stroke="#000" stroke-width="0.65" fill="none"/>
<path d="M289.50,457.31 V449.23 M287.60,449.23 H291.40" stroke="#000" stroke-width="0.65" fill="none"/>
<path d="M302.57,436.17 V411.29 M300.67,411.29 H304.47" stroke="#000" stroke-width="0.65" fill="none"/>
<path d="M316.90,419.99 V410.04 M315.00,410.04 H318.80" stroke="#000" stroke-width="0.65" fill="none"/>
<path d="M316.90,462.91 V459.80 M315.00,459.80 H318.80" stroke="#000" stroke-width="0.65" fill="none"/>
<polyline points="234.70,462.91 247.77,451.72 262.10,434.30 275.17,424.35 289.50,406.93 302.57,404.44 316.90,403.20" fill="none" stroke="#000" stroke-width="0.9" stroke-linejoin="round"/>
<polyline points="234.70,464.78 247.77,461.67 262.10,457.94 275.17,449.23 289.50,433.06 302.57,410.66 316.90,403.20" fill="none" stroke="#000" stroke-width="0.9" stroke-linejoin="round"/>
<polyline points="234.70,465.40 247.77,464.16 262.10,463.53 275.17,463.53 289.50,457.31 302.57,436.17 316.90,419.99" fill="none" stroke="#000" stroke-width="0.9" stroke-linejoin="round"/>
<polyline points="234.70,465.40 247.77,457.94 262.10,462.91 275.17,464.16 289.50,464.16 302.57,464.16 316.90,462.91" fill="none" stroke="#000" stroke-width="0.9" stroke-linejoin="round"/>
<rect x="233.00" y="461.21" width="3.40" height="3.40" fill="#000"/>
<rect x="246.07" y="450.02" width="3.40" height="3.40" fill="#000"/>
<rect x="260.40" y="432.60" width="3.40" height="3.40" fill="#000"/>
<rect x="273.47" y="422.65" width="3.40" height="3.40" fill="#000"/>
<rect x="287.80" y="405.23" width="3.40" height="3.40" fill="#000"/>
<rect x="300.87" y="402.74" width="3.40" height="3.40" fill="#000"/>
<rect x="315.20" y="401.50" width="3.40" height="3.40" fill="#000"/>
<polygon points="234.70,462.68 232.60,466.35 236.80,466.35" fill="#000"/>
<polygon points="247.77,459.57 245.67,463.24 249.87,463.24" fill="#000"/>
<polygon points="262.10,455.84 260.00,459.51 264.20,459.51" fill="#000"/>
<polygon points="275.17,447.13 273.07,450.80 277.27,450.80" fill="#000"/>
<polygon points="289.50,430.96 287.40,434.63 291.60,434.63" fill="#000"/>
<polygon points="302.57,408.56 300.47,412.24 304.67,412.24" fill="#000"/>
<polygon points="316.90,401.10 314.80,404.77 319.00,404.77" fill="#000"/>
<polygon points="234.70,467.50 232.60,463.82 236.80,463.82" fill="#000"/>
<polygon points="247.77,466.26 245.67,462.58 249.87,462.58" fill="#000"/>
<polygon points="262.10,465.63 260.00,461.96 264.20,461.96" fill="#000"/>
<polygon points="275.17,465.63 273.07,461.96 277.27,461.96" fill="#000"/>
<polygon points="289.50,459.41 287.40,455.74 291.60,455.74" fill="#000"/>
<polygon points="302.57,438.27 300.47,434.59 304.67,434.59" fill="#000"/>
<polygon points="316.90,422.09 314.80,418.42 319.00,418.42" fill="#000"/>
<polygon points="234.70,463.05 237.05,465.40 234.70,467.75 232.35,465.40" fill="#000"/>
<polygon points="247.77,455.59 250.12,457.94 247.77,460.29 245.42,457.94" fill="#000"/>
<polygon points="262.10,460.56 264.45,462.91 262.10,465.26 259.75,462.91" fill="#000"/>
<polygon points="275.17,461.81 277.52,464.16 275.17,466.51 272.82,464.16" fill="#000"/>
<polygon points="289.50,461.81 291.85,464.16 289.50,466.51 287.15,464.16" fill="#000"/>
<polygon points="302.57,461.81 304.92,464.16 302.57,466.51 300.22,464.16" fill="#000"/>
<polygon points="316.90,460.56 319.25,462.91 316.90,465.26 314.55,462.91" fill="#000"/>
<text x="351.30" y="379.00" font-size="16.5" font-weight="bold" text-anchor="start" stroke="#000" stroke-width="0.45">K</text>
<path d="M393.10,384.00 V465.50" fill="none" stroke="#222" stroke-width="0.9"/>
<path d="M392.70,465.20 H516.50" fill="none" stroke="#222" stroke-width="0.65"/>
<path d="M390.10,465.20 H393.10" stroke="#222" stroke-width="0.9"/>
<text transform="translate(389.10 467.20) scale(0.9 1)" font-size="6.2" font-weight="bold" text-anchor="end">0</text>
<path d="M390.10,450.32 H393.10" stroke="#222" stroke-width="0.9"/>
<text transform="translate(389.10 452.32) scale(0.9 1)" font-size="6.2" font-weight="bold" text-anchor="end">20</text>
<path d="M390.10,435.44 H393.10" stroke="#222" stroke-width="0.9"/>
<text transform="translate(389.10 437.44) scale(0.9 1)" font-size="6.2" font-weight="bold" text-anchor="end">40</text>
<path d="M390.10,420.56 H393.10" stroke="#222" stroke-width="0.9"/>
<text transform="translate(389.10 422.56) scale(0.9 1)" font-size="6.2" font-weight="bold" text-anchor="end">60</text>
<path d="M390.10,405.68 H393.10" stroke="#222" stroke-width="0.9"/>
<text transform="translate(389.10 407.68) scale(0.9 1)" font-size="6.2" font-weight="bold" text-anchor="end">80</text>
<path d="M390.10,390.80 H393.10" stroke="#222" stroke-width="0.9"/>
<text transform="translate(389.10 392.80) scale(0.9 1)" font-size="6.2" font-weight="bold" text-anchor="end">100</text>
<text x="375.30" y="426.20" font-size="7.15" font-weight="bold" text-anchor="middle" transform="rotate(-90 375.30 426.20)">Calcium mobilization (%)</text>
<path d="M414.10,465.20 v2.8 M426.59,465.20 v1.5 M433.90,465.20 v1.5 M439.09,465.20 v1.5 M443.11,465.20 v1.5 M446.39,465.20 v1.5 M449.17,465.20 v1.5 M451.58,465.20 v1.5 M453.70,465.20 v1.5 M455.60,465.20 v2.8 M468.09,465.20 v1.5 M475.40,465.20 v1.5 M480.59,465.20 v1.5 M484.61,465.20 v1.5 M487.89,465.20 v1.5 M490.67,465.20 v1.5 M493.08,465.20 v1.5 M495.20,465.20 v1.5 M497.10,465.20 v2.8 M509.59,465.20 v1.5" stroke="#111" stroke-width="0.65" fill="none"/>
<text x="408.28" y="473.60" font-size="6.0" font-weight="bold" text-anchor="start">10</text>
<text x="415.30" y="471.70" font-size="3.2" font-weight="bold" text-anchor="start">-10</text>
<text x="450.67" y="473.60" font-size="6.0" font-weight="bold" text-anchor="start">10</text>
<text x="457.69" y="471.70" font-size="3.2" font-weight="bold" text-anchor="start">-9</text>
<text x="492.17" y="473.60" font-size="6.0" font-weight="bold" text-anchor="start">10</text>
<text x="499.19" y="471.70" font-size="3.2" font-weight="bold" text-anchor="start">-8</text>
<text x="453.00" y="482.70" font-size="6.7" font-weight="bold" text-anchor="middle">CX<tspan font-size="4.4" dy="1.4">3</tspan><tspan dy="-1.4">CL1 (M)</tspan></text>
<path d="M396.90,390.80 H406.30" stroke="#000" stroke-width="0.7"/>
<rect x="400.21" y="389.41" width="2.79" height="2.79" fill="#000"/>
<text transform="translate(411.00 393.15) scale(1 1.1)" font-size="6.45">control</text>
<path d="M396.90,400.40 H406.30" stroke="#000" stroke-width="0.7"/>
<polygon points="401.60,398.68 399.88,401.69 403.32,401.69" fill="#000"/>
<text transform="translate(411.00 402.75) scale(1 1.1)" font-size="6.45">1 µg/mL</text>
<path d="M396.90,409.90 H406.30" stroke="#000" stroke-width="0.7"/>
<polygon points="401.60,411.62 399.88,408.61 403.32,408.61" fill="#000"/>
<text transform="translate(411.00 412.25) scale(1 1.1)" font-size="6.45">3 µg/mL</text>
<path d="M396.90,419.50 H406.30" stroke="#000" stroke-width="0.7"/>
<polygon points="401.60,417.57 403.53,419.50 401.60,421.43 399.67,419.50" fill="#000"/>
<text transform="translate(411.00 421.85) scale(1 1.1)" font-size="6.45">10 µg/mL</text>
<path d="M414.10,454.78 V444.37 M412.20,444.37 H416.00" stroke="#000" stroke-width="0.65" fill="none"/>
<path d="M433.90,457.76 V452.55 M432.00,452.55 H435.80" stroke="#000" stroke-width="0.65" fill="none"/>
<path d="M455.60,420.56 V404.19 M453.70,404.19 H457.50" stroke="#000" stroke-width="0.65" fill="none"/>
<path d="M475.40,393.78 V388.57 M473.50,388.57 H477.30" stroke="#000" stroke-width="0.65" fill="none"/>
<path d="M455.60,448.09 V433.95 M453.70,433.95 H457.50" stroke="#000" stroke-width="0.65" fill="none"/>
<path d="M475.40,414.61 V405.68 M473.50,405.68 H477.30" stroke="#000" stroke-width="0.65" fill="none"/>
<path d="M497.10,413.12 V399.73 M495.20,399.73 H499.00" stroke="#000" stroke-width="0.65" fill="none"/>
<path d="M475.40,454.78 V450.32 M473.50,450.32 H477.30" stroke="#000" stroke-width="0.65" fill="none"/>
<path d="M497.10,436.18 V425.77 M495.20,425.77 H499.00" stroke="#000" stroke-width="0.65" fill="none"/>
<path d="M414.10,455.53 V451.06 M412.20,451.06 H416.00" stroke="#000" stroke-width="0.65" fill="none"/>
<path d="M455.60,456.27 V452.55 M453.70,452.55 H457.50" stroke="#000" stroke-width="0.65" fill="none"/>
<path d="M497.10,454.78 V449.58 M495.20,449.58 H499.00" stroke="#000" stroke-width="0.65" fill="none"/>
<polyline points="414.10,454.78 433.90,457.76 455.60,420.56 475.40,393.78 497.10,390.80" fill="none" stroke="#000" stroke-width="0.9" stroke-linejoin="round"/>
<polyline points="414.10,459.99 433.90,463.71 455.60,448.09 475.40,414.61 497.10,413.12" fill="none" stroke="#000" stroke-width="0.9" stroke-linejoin="round"/>
<polyline points="414.10,465.20 433.90,465.20 455.60,459.99 475.40,454.78 497.10,436.18" fill="none" stroke="#000" stroke-width="0.9" stroke-linejoin="round"/>
<polyline points="414.10,455.53 433.90,462.97 455.60,456.27 475.40,459.25 497.10,454.78" fill="none" stroke="#000" stroke-width="0.9" stroke-linejoin="round"/>
<rect x="412.40" y="453.08" width="3.40" height="3.40" fill="#000"/>
<rect x="432.20" y="456.06" width="3.40" height="3.40" fill="#000"/>
<rect x="453.90" y="418.86" width="3.40" height="3.40" fill="#000"/>
<rect x="473.70" y="392.08" width="3.40" height="3.40" fill="#000"/>
<rect x="495.40" y="389.10" width="3.40" height="3.40" fill="#000"/>
<polygon points="414.10,457.89 412.00,461.57 416.20,461.57" fill="#000"/>
<polygon points="433.90,461.61 431.80,465.29 436.00,465.29" fill="#000"/>
<polygon points="455.60,445.99 453.50,449.66 457.70,449.66" fill="#000"/>
<polygon points="475.40,412.51 473.30,416.18 477.50,416.18" fill="#000"/>
<polygon points="497.10,411.02 495.00,414.69 499.20,414.69" fill="#000"/>
<polygon points="414.10,467.30 412.00,463.62 416.20,463.62" fill="#000"/>
<polygon points="433.90,467.30 431.80,463.62 436.00,463.62" fill="#000"/>
<polygon points="455.60,462.09 453.50,458.42 457.70,458.42" fill="#000"/>
<polygon points="475.40,456.88 473.30,453.21 477.50,453.21" fill="#000"/>
<polygon points="497.10,438.28 495.00,434.61 499.20,434.61" fill="#000"/>
<polygon points="414.10,453.18 416.45,455.53 414.10,457.88 411.75,455.53" fill="#000"/>
<polygon points="433.90,460.62 436.25,462.97 433.90,465.32 431.55,462.97" fill="#000"/>
<polygon points="455.60,453.92 457.95,456.27 455.60,458.62 453.25,456.27" fill="#000"/>
<polygon points="475.40,456.90 477.75,459.25 475.40,461.60 473.05,459.25" fill="#000"/>
<polygon points="497.10,452.43 499.45,454.78 497.10,457.13 494.75,454.78" fill="#000"/>
</svg>
</body></html>
